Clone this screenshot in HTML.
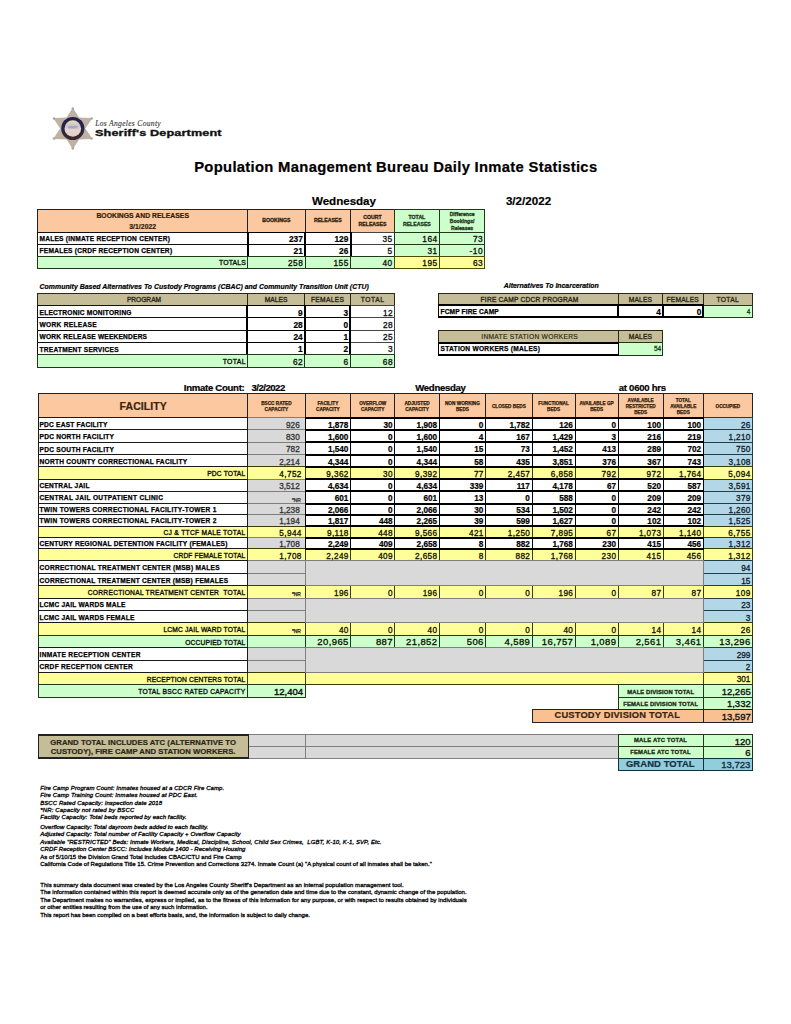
<!DOCTYPE html>
<html><head><meta charset="utf-8"><title>Population Management Bureau Daily Inmate Statistics</title>
<style>
html,body{margin:0;padding:0;background:#fff;}
body{width:791px;height:1024px;position:relative;overflow:hidden;font-family:"Liberation Sans",sans-serif;}
.b{position:absolute;box-sizing:border-box;}
.t{position:absolute;white-space:pre;margin:0;padding:0;}
</style></head><body>
<div class="t" style="top:159px;font-size:14.8px;line-height:16px;height:16px;color:#000;z-index:5;font-weight:bold;letter-spacing:0.307px;-webkit-text-stroke:0.2px #000;left:194.20px;">Population Management Bureau Daily Inmate Statistics</div>
<div class="t" style="top:194px;font-size:11.6px;line-height:13px;height:13px;color:#000;z-index:5;font-weight:bold;letter-spacing:-0.032px;-webkit-text-stroke:0.2px #000;left:312.00px;">Wednesday</div>
<div class="t" style="top:194px;font-size:11.6px;line-height:13px;height:13px;color:#000;z-index:5;font-weight:bold;letter-spacing:0.021px;-webkit-text-stroke:0.2px #000;left:505.90px;">3/2/2022</div>
<div class="b" style="left:37px;top:209px;width:211px;height:24px;background:#fbc89f;border:solid #222;border-width:1px 1px;"></div>
<div class="b" style="left:247px;top:209px;width:59px;height:24px;background:#fbc89f;border:solid #222;border-width:1px 1px;"></div>
<div class="b" style="left:305px;top:209px;width:46px;height:24px;background:#fbc89f;border:solid #222;border-width:1px 1px;"></div>
<div class="b" style="left:350px;top:209px;width:45px;height:24px;background:#fbc89f;border:solid #222;border-width:1px 1px;"></div>
<div class="b" style="left:394px;top:209px;width:46px;height:24px;background:#ccffcc;border:solid #22361a;border-width:1px 1px;"></div>
<div class="b" style="left:439px;top:209px;width:46px;height:24px;background:#ccffcc;border:solid #22361a;border-width:1px 1px;"></div>
<div class="t" style="top:212px;font-size:6.8px;line-height:7px;height:7px;color:#2e1c0c;z-index:5;font-weight:bold;letter-spacing:0.033px;-webkit-text-stroke:0.2px #2e1c0c;left:-157.33px;width:600px;text-align:center;">BOOKINGS AND RELEASES</div>
<div class="t" style="top:223px;font-size:6.8px;line-height:7px;height:7px;color:#2e1c0c;z-index:5;font-weight:bold;letter-spacing:0.061px;-webkit-text-stroke:0.2px #2e1c0c;left:-157.32px;width:600px;text-align:center;">3/1/2022</div>
<div class="t" style="top:217px;font-size:5.2px;line-height:6px;height:6px;color:#2e1c0c;z-index:5;font-weight:bold;-webkit-text-stroke:0.3px #2e1c0c;left:-23.60px;width:600px;text-align:center;">BOOKINGS</div>
<div class="t" style="top:217px;font-size:5.2px;line-height:6px;height:6px;color:#2e1c0c;z-index:5;font-weight:bold;letter-spacing:-0.018px;-webkit-text-stroke:0.3px #2e1c0c;left:27.84px;width:600px;text-align:center;">RELEASES</div>
<div class="t" style="top:214px;font-size:5.2px;line-height:6px;height:6px;color:#2e1c0c;z-index:5;font-weight:bold;-webkit-text-stroke:0.3px #2e1c0c;left:72.50px;width:600px;text-align:center;">COURT</div>
<div class="t" style="top:221px;font-size:5.2px;line-height:6px;height:6px;color:#2e1c0c;z-index:5;font-weight:bold;letter-spacing:-0.018px;-webkit-text-stroke:0.3px #2e1c0c;left:72.49px;width:600px;text-align:center;">RELEASES</div>
<div class="t" style="top:214px;font-size:5.2px;line-height:6px;height:6px;color:#22361a;z-index:5;font-weight:bold;-webkit-text-stroke:0.3px #22361a;left:116.90px;width:600px;text-align:center;">TOTAL</div>
<div class="t" style="top:221px;font-size:5.2px;line-height:6px;height:6px;color:#22361a;z-index:5;font-weight:bold;letter-spacing:-0.018px;-webkit-text-stroke:0.3px #22361a;left:116.89px;width:600px;text-align:center;">RELEASES</div>
<div class="t" style="top:211px;font-size:5.1px;line-height:6px;height:6px;color:#22361a;z-index:5;font-weight:bold;-webkit-text-stroke:0.3px #22361a;left:162.15px;width:600px;text-align:center;">Difference</div>
<div class="t" style="top:218px;font-size:5.1px;line-height:6px;height:6px;color:#22361a;z-index:5;font-weight:bold;-webkit-text-stroke:0.3px #22361a;left:162.15px;width:600px;text-align:center;">Bookings/</div>
<div class="t" style="top:225px;font-size:5.1px;line-height:6px;height:6px;color:#22361a;z-index:5;font-weight:bold;-webkit-text-stroke:0.3px #22361a;left:162.15px;width:600px;text-align:center;">Releases</div>
<div class="b" style="left:350px;top:232px;width:45px;height:13px;background:#fff;border:solid #444;border-width:1px 1px;"></div>
<div class="b" style="left:394px;top:232px;width:46px;height:13px;background:#ccffcc;border:solid #22361a;border-width:1px 1px;"></div>
<div class="b" style="left:439px;top:232px;width:46px;height:13px;background:#ccffcc;border:solid #22361a;border-width:1px 1px;"></div>
<div class="b" style="left:350px;top:244px;width:45px;height:13px;background:#fff;border:solid #444;border-width:1px 1px;"></div>
<div class="b" style="left:394px;top:244px;width:46px;height:13px;background:#ccffcc;border:solid #22361a;border-width:1px 1px;"></div>
<div class="b" style="left:439px;top:244px;width:46px;height:13px;background:#ccffcc;border:solid #22361a;border-width:1px 1px;"></div>
<div class="b" style="left:37px;top:232px;width:211px;height:13px;background:#fff;border:solid #111;border-width:1px 1px;"></div>
<div class="b" style="left:247px;top:232px;width:59px;height:13px;background:#fff;border:solid #000;border-width:1px 2px;"></div>
<div class="b" style="left:304px;top:232px;width:48px;height:13px;background:#fff;border:solid #000;border-width:1px 2px;"></div>
<div class="t" style="top:235px;font-size:6.6px;line-height:7px;height:7px;color:#000;z-index:5;font-weight:bold;letter-spacing:0.235px;-webkit-text-stroke:0.25px #000;left:39.50px;">MALES (INMATE RECEPTION CENTER)</div>
<div class="t" style="top:234px;font-size:8.3px;line-height:10px;height:10px;color:#000;z-index:5;font-weight:bold;-webkit-text-stroke:0.2px #000;right:488.20px;">237</div>
<div class="t" style="top:234px;font-size:8.3px;line-height:10px;height:10px;color:#000;z-index:5;font-weight:bold;-webkit-text-stroke:0.2px #000;right:442.70px;">129</div>
<div class="t" style="top:234px;font-size:8.3px;line-height:10px;height:10px;color:#111;z-index:5;letter-spacing:0.500px;-webkit-text-stroke:0.33px #111;right:398.40px;">35</div>
<div class="t" style="top:234px;font-size:8.3px;line-height:10px;height:10px;color:#111;z-index:5;letter-spacing:0.500px;-webkit-text-stroke:0.33px #111;right:353.40px;">164</div>
<div class="t" style="top:234px;font-size:8.3px;line-height:10px;height:10px;color:#111;z-index:5;letter-spacing:0.500px;-webkit-text-stroke:0.33px #111;right:307.90px;">73</div>
<div class="b" style="left:37px;top:244px;width:211px;height:13px;background:#fff;border:solid #111;border-width:1px 1px;"></div>
<div class="b" style="left:247px;top:244px;width:59px;height:13px;background:#fff;border:solid #000;border-width:1px 2px;"></div>
<div class="b" style="left:304px;top:244px;width:48px;height:13px;background:#fff;border:solid #000;border-width:1px 2px;"></div>
<div class="t" style="top:247px;font-size:6.6px;line-height:7px;height:7px;color:#000;z-index:5;font-weight:bold;letter-spacing:0.243px;-webkit-text-stroke:0.25px #000;left:39.50px;">FEMALES (CRDF RECEPTION CENTER)</div>
<div class="t" style="top:246px;font-size:8.3px;line-height:10px;height:10px;color:#000;z-index:5;font-weight:bold;-webkit-text-stroke:0.2px #000;right:488.20px;">21</div>
<div class="t" style="top:246px;font-size:8.3px;line-height:10px;height:10px;color:#000;z-index:5;font-weight:bold;-webkit-text-stroke:0.2px #000;right:442.70px;">26</div>
<div class="t" style="top:246px;font-size:8.3px;line-height:10px;height:10px;color:#111;z-index:5;-webkit-text-stroke:0.33px #111;right:398.90px;">5</div>
<div class="t" style="top:246px;font-size:8.3px;line-height:10px;height:10px;color:#111;z-index:5;letter-spacing:0.500px;-webkit-text-stroke:0.33px #111;right:353.40px;">31</div>
<div class="t" style="top:246px;font-size:8.3px;line-height:10px;height:10px;color:#111;z-index:5;letter-spacing:0.500px;-webkit-text-stroke:0.33px #111;right:307.90px;">-10</div>
<div class="b" style="left:37px;top:256px;width:211px;height:13px;background:#ccffcc;border:solid #22361a;border-width:1px 1px;"></div>
<div class="b" style="left:247px;top:256px;width:59px;height:13px;background:#ccffcc;border:solid #22361a;border-width:1px 1px;"></div>
<div class="b" style="left:305px;top:256px;width:46px;height:13px;background:#ccffcc;border:solid #22361a;border-width:1px 1px;"></div>
<div class="b" style="left:350px;top:256px;width:45px;height:13px;background:#ccffcc;border:solid #22361a;border-width:1px 1px;"></div>
<div class="b" style="left:394px;top:256px;width:46px;height:13px;background:#ffff99;border:solid #4d4d00;border-width:1px 1px;"></div>
<div class="b" style="left:439px;top:256px;width:46px;height:13px;background:#ffff99;border:solid #4d4d00;border-width:1px 1px;"></div>
<div class="t" style="top:259px;font-size:6.9px;line-height:7px;height:7px;color:#0d0d0d;z-index:5;letter-spacing:0.140px;-webkit-text-stroke:0.33px #0d0d0d;right:544.96px;">TOTALS</div>
<div class="t" style="top:258px;font-size:8.3px;line-height:10px;height:10px;color:#111;z-index:5;letter-spacing:0.500px;-webkit-text-stroke:0.33px #111;right:487.70px;">258</div>
<div class="t" style="top:258px;font-size:8.3px;line-height:10px;height:10px;color:#111;z-index:5;letter-spacing:0.500px;-webkit-text-stroke:0.33px #111;right:442.20px;">155</div>
<div class="t" style="top:258px;font-size:8.3px;line-height:10px;height:10px;color:#111;z-index:5;letter-spacing:0.500px;-webkit-text-stroke:0.33px #111;right:398.40px;">40</div>
<div class="t" style="top:258px;font-size:8.3px;line-height:10px;height:10px;color:#111;z-index:5;letter-spacing:0.500px;-webkit-text-stroke:0.33px #111;right:353.40px;">195</div>
<div class="t" style="top:258px;font-size:8.3px;line-height:10px;height:10px;color:#111;z-index:5;letter-spacing:0.500px;-webkit-text-stroke:0.33px #111;right:307.90px;">63</div>
<div class="t" style="top:283px;font-size:6.9px;line-height:7px;height:7px;color:#000;z-index:5;font-weight:bold;font-style:italic;letter-spacing:0.027px;-webkit-text-stroke:0.2px #000;left:39.60px;">Community Based Alternatives To Custody Programs (CBAC) and Community Transition Unit (CTU)</div>
<div class="b" style="left:37px;top:293px;width:211px;height:13px;background:#c4bd97;border:solid #2b2714;border-width:1px 1px;"></div>
<div class="b" style="left:247px;top:293px;width:58px;height:13px;background:#c4bd97;border:solid #2b2714;border-width:1px 1px;"></div>
<div class="b" style="left:304px;top:293px;width:47px;height:13px;background:#c4bd97;border:solid #2b2714;border-width:1px 1px;"></div>
<div class="b" style="left:350px;top:293px;width:45px;height:13px;background:#c4bd97;border:solid #2b2714;border-width:1px 1px;"></div>
<div class="t" style="top:296px;font-size:6.6px;line-height:7px;height:7px;color:#2b2714;z-index:5;letter-spacing:0.016px;-webkit-text-stroke:0.33px #2b2714;left:-156.04px;width:600px;text-align:center;">PROGRAM</div>
<div class="t" style="top:296px;font-size:6.7px;line-height:7px;height:7px;color:#2b2714;z-index:5;letter-spacing:0.021px;-webkit-text-stroke:0.33px #2b2714;left:-23.99px;width:600px;text-align:center;">MALES</div>
<div class="t" style="top:296px;font-size:6.7px;line-height:7px;height:7px;color:#2b2714;z-index:5;letter-spacing:0.271px;-webkit-text-stroke:0.33px #2b2714;left:27.59px;width:600px;text-align:center;">FEMALES</div>
<div class="t" style="top:296px;font-size:6.7px;line-height:7px;height:7px;color:#2b2714;z-index:5;letter-spacing:0.582px;-webkit-text-stroke:0.33px #2b2714;left:72.64px;width:600px;text-align:center;">TOTAL</div>
<div class="b" style="left:350px;top:305px;width:45px;height:13px;background:#fff;border:solid #444;border-width:1px 1px;"></div>
<div class="b" style="left:350px;top:317px;width:45px;height:14px;background:#fff;border:solid #444;border-width:1px 1px;"></div>
<div class="b" style="left:350px;top:330px;width:45px;height:13px;background:#fff;border:solid #444;border-width:1px 1px;"></div>
<div class="b" style="left:350px;top:342px;width:45px;height:13px;background:#fff;border:solid #444;border-width:1px 1px;"></div>
<div class="b" style="left:37px;top:305px;width:211px;height:13px;background:#fff;border:solid #111;border-width:1px 1px;"></div>
<div class="b" style="left:246px;top:305px;width:60px;height:13px;background:#fff;border:solid #000;border-width:1px 2px;"></div>
<div class="b" style="left:304px;top:305px;width:47px;height:13px;background:#fff;border:solid #000;border-width:1px 2px;"></div>
<div class="t" style="top:309px;font-size:6.6px;line-height:7px;height:7px;color:#000;z-index:5;font-weight:bold;letter-spacing:0.224px;-webkit-text-stroke:0.25px #000;left:39.60px;">ELECTRONIC MONITORING</div>
<div class="t" style="top:308px;font-size:8.3px;line-height:10px;height:10px;color:#000;z-index:5;font-weight:bold;-webkit-text-stroke:0.2px #000;right:488.30px;">9</div>
<div class="t" style="top:308px;font-size:8.3px;line-height:10px;height:10px;color:#000;z-index:5;font-weight:bold;-webkit-text-stroke:0.2px #000;right:442.80px;">3</div>
<div class="t" style="top:308px;font-size:8.3px;line-height:10px;height:10px;color:#111;z-index:5;letter-spacing:0.400px;-webkit-text-stroke:0.33px #111;right:397.90px;">12</div>
<div class="b" style="left:37px;top:317px;width:211px;height:14px;background:#fff;border:solid #111;border-width:1px 1px;"></div>
<div class="b" style="left:246px;top:317px;width:60px;height:14px;background:#fff;border:solid #000;border-width:1px 2px;"></div>
<div class="b" style="left:304px;top:317px;width:47px;height:14px;background:#fff;border:solid #000;border-width:1px 2px;"></div>
<div class="t" style="top:321px;font-size:6.6px;line-height:7px;height:7px;color:#000;z-index:5;font-weight:bold;letter-spacing:0.282px;-webkit-text-stroke:0.25px #000;left:39.60px;">WORK RELEASE</div>
<div class="t" style="top:320px;font-size:8.3px;line-height:10px;height:10px;color:#000;z-index:5;font-weight:bold;-webkit-text-stroke:0.2px #000;right:488.30px;">28</div>
<div class="t" style="top:320px;font-size:8.3px;line-height:10px;height:10px;color:#000;z-index:5;font-weight:bold;-webkit-text-stroke:0.2px #000;right:442.80px;">0</div>
<div class="t" style="top:320px;font-size:8.3px;line-height:10px;height:10px;color:#111;z-index:5;letter-spacing:0.400px;-webkit-text-stroke:0.33px #111;right:397.90px;">28</div>
<div class="b" style="left:37px;top:330px;width:211px;height:13px;background:#fff;border:solid #111;border-width:1px 1px;"></div>
<div class="b" style="left:246px;top:330px;width:60px;height:13px;background:#fff;border:solid #000;border-width:1px 2px;"></div>
<div class="b" style="left:304px;top:330px;width:47px;height:13px;background:#fff;border:solid #000;border-width:1px 2px;"></div>
<div class="t" style="top:333px;font-size:6.6px;line-height:7px;height:7px;color:#000;z-index:5;font-weight:bold;letter-spacing:0.203px;-webkit-text-stroke:0.25px #000;left:39.60px;">WORK RELEASE WEEKENDERS</div>
<div class="t" style="top:332px;font-size:8.3px;line-height:10px;height:10px;color:#000;z-index:5;font-weight:bold;-webkit-text-stroke:0.2px #000;right:488.30px;">24</div>
<div class="t" style="top:332px;font-size:8.3px;line-height:10px;height:10px;color:#000;z-index:5;font-weight:bold;-webkit-text-stroke:0.2px #000;right:442.80px;">1</div>
<div class="t" style="top:332px;font-size:8.3px;line-height:10px;height:10px;color:#111;z-index:5;letter-spacing:0.400px;-webkit-text-stroke:0.33px #111;right:397.90px;">25</div>
<div class="b" style="left:37px;top:342px;width:211px;height:13px;background:#fff;border:solid #111;border-width:1px 1px;"></div>
<div class="b" style="left:246px;top:342px;width:60px;height:13px;background:#fff;border:solid #000;border-width:1px 2px;"></div>
<div class="b" style="left:304px;top:342px;width:47px;height:13px;background:#fff;border:solid #000;border-width:1px 2px;"></div>
<div class="t" style="top:346px;font-size:6.6px;line-height:7px;height:7px;color:#000;z-index:5;font-weight:bold;letter-spacing:0.218px;-webkit-text-stroke:0.25px #000;left:39.60px;">TREATMENT SERVICES</div>
<div class="t" style="top:344px;font-size:8.3px;line-height:10px;height:10px;color:#000;z-index:5;font-weight:bold;-webkit-text-stroke:0.2px #000;right:488.30px;">1</div>
<div class="t" style="top:344px;font-size:8.3px;line-height:10px;height:10px;color:#000;z-index:5;font-weight:bold;-webkit-text-stroke:0.2px #000;right:442.80px;">2</div>
<div class="t" style="top:344px;font-size:8.3px;line-height:10px;height:10px;color:#111;z-index:5;-webkit-text-stroke:0.33px #111;right:398.30px;">3</div>
<div class="b" style="left:37px;top:354px;width:211px;height:14px;background:#ccffcc;border:solid #22361a;border-width:1px 1px;"></div>
<div class="b" style="left:247px;top:354px;width:58px;height:14px;background:#ccffcc;border:solid #22361a;border-width:1px 1px;"></div>
<div class="b" style="left:304px;top:354px;width:47px;height:14px;background:#ccffcc;border:solid #22361a;border-width:1px 1px;"></div>
<div class="b" style="left:350px;top:354px;width:45px;height:14px;background:#ccffcc;border:solid #22361a;border-width:1px 1px;"></div>
<div class="t" style="top:358px;font-size:6.9px;line-height:7px;height:7px;color:#0d0d0d;z-index:5;letter-spacing:0.350px;-webkit-text-stroke:0.33px #0d0d0d;right:545.05px;">TOTAL</div>
<div class="t" style="top:357px;font-size:8.3px;line-height:10px;height:10px;color:#111;z-index:5;letter-spacing:0.500px;-webkit-text-stroke:0.33px #111;right:487.80px;">62</div>
<div class="t" style="top:357px;font-size:8.3px;line-height:10px;height:10px;color:#111;z-index:5;-webkit-text-stroke:0.33px #111;right:442.80px;">6</div>
<div class="t" style="top:357px;font-size:8.3px;line-height:10px;height:10px;color:#111;z-index:5;letter-spacing:0.500px;-webkit-text-stroke:0.33px #111;right:398.00px;">68</div>
<div class="t" style="top:282px;font-size:6.9px;line-height:7px;height:7px;color:#000;z-index:5;font-weight:bold;font-style:italic;letter-spacing:0.009px;-webkit-text-stroke:0.2px #000;left:503.80px;">Alternatives To Incarceration</div>
<div class="b" style="left:438px;top:293px;width:181px;height:13px;background:#c4bd97;border:solid #2b2714;border-width:1px 1px;"></div>
<div class="b" style="left:618px;top:293px;width:45px;height:13px;background:#c4bd97;border:solid #2b2714;border-width:1px 1px;"></div>
<div class="b" style="left:662px;top:293px;width:42px;height:13px;background:#c4bd97;border:solid #2b2714;border-width:1px 1px;"></div>
<div class="b" style="left:703px;top:293px;width:50px;height:13px;background:#c4bd97;border:solid #2b2714;border-width:1px 1px;"></div>
<div class="t" style="top:296px;font-size:6.7px;line-height:7px;height:7px;color:#2b2714;z-index:5;letter-spacing:0.178px;-webkit-text-stroke:0.33px #2b2714;left:480.60px;">FIRE CAMP CDCR PROGRAM</div>
<div class="t" style="top:296px;font-size:6.7px;line-height:7px;height:7px;color:#2b2714;z-index:5;letter-spacing:0.121px;-webkit-text-stroke:0.33px #2b2714;left:628.80px;">MALES</div>
<div class="t" style="top:296px;font-size:6.7px;line-height:7px;height:7px;color:#2b2714;z-index:5;letter-spacing:0.171px;-webkit-text-stroke:0.33px #2b2714;left:666.50px;">FEMALES</div>
<div class="t" style="top:296px;font-size:6.7px;line-height:7px;height:7px;color:#2b2714;z-index:5;letter-spacing:0.332px;-webkit-text-stroke:0.33px #2b2714;left:716.50px;">TOTAL</div>
<div class="b" style="left:703px;top:305px;width:50px;height:13px;background:#ccffcc;border:solid #22361a;border-width:1px 1px;"></div>
<div class="b" style="left:438px;top:304px;width:181px;height:14px;background:#fff;border:solid #000;border-width:2px 1px;"></div>
<div class="b" style="left:617px;top:304px;width:47px;height:14px;background:#fff;border:solid #000;border-width:2px 2px;"></div>
<div class="b" style="left:662px;top:304px;width:42px;height:14px;background:#fff;border:solid #000;border-width:2px 2px;"></div>
<div class="t" style="top:308px;font-size:6.6px;line-height:7px;height:7px;color:#000;z-index:5;font-weight:bold;letter-spacing:0.114px;-webkit-text-stroke:0.25px #000;left:440.60px;">FCMP FIRE CAMP</div>
<div class="t" style="top:307px;font-size:8.3px;line-height:10px;height:10px;color:#000;z-index:5;font-weight:bold;-webkit-text-stroke:0.2px #000;right:130.10px;">4</div>
<div class="t" style="top:307px;font-size:8.3px;line-height:10px;height:10px;color:#000;z-index:5;font-weight:bold;-webkit-text-stroke:0.2px #000;right:89.60px;">0</div>
<div class="t" style="top:308px;font-size:6.5px;line-height:7px;height:7px;color:#1c4220;z-index:5;-webkit-text-stroke:0.3px #1c4220;right:40.70px;">4</div>
<div class="b" style="left:438px;top:330px;width:181px;height:13px;background:#c4bd97;border:solid #2b2714;border-width:1px 1px;"></div>
<div class="b" style="left:618px;top:330px;width:45px;height:13px;background:#c4bd97;border:solid #2b2714;border-width:1px 1px;"></div>
<div class="t" style="top:333px;font-size:6.7px;line-height:7px;height:7px;color:#2b2714;z-index:5;letter-spacing:0.257px;-webkit-text-stroke:0.15px #2b2714;left:481.30px;">INMATE STATION WORKERS</div>
<div class="t" style="top:333px;font-size:6.7px;line-height:7px;height:7px;color:#2b2714;z-index:5;letter-spacing:0.121px;-webkit-text-stroke:0.33px #2b2714;left:628.80px;">MALES</div>
<div class="b" style="left:618px;top:342px;width:45px;height:14px;background:#ccffcc;border:solid #22361a;border-width:1px 1px;"></div>
<div class="b" style="left:438px;top:342px;width:181px;height:14px;background:#fff;border:solid #000;border-width:2px 1px;"></div>
<div class="t" style="top:345px;font-size:6.6px;line-height:7px;height:7px;color:#000;z-index:5;font-weight:bold;letter-spacing:0.263px;-webkit-text-stroke:0.25px #000;left:440.60px;">STATION WORKERS (MALES)</div>
<div class="t" style="top:345px;font-size:6.5px;line-height:7px;height:7px;color:#1c4220;z-index:5;-webkit-text-stroke:0.3px #1c4220;right:129.80px;">54</div>
<div class="t" style="top:382px;font-size:9.6px;line-height:11px;height:11px;color:#000;z-index:5;font-weight:bold;letter-spacing:-0.294px;-webkit-text-stroke:0.2px #000;left:183.80px;">Inmate Count:</div>
<div class="t" style="top:382px;font-size:9.6px;line-height:11px;height:11px;color:#000;z-index:5;font-weight:bold;letter-spacing:-0.510px;-webkit-text-stroke:0.2px #000;left:251.50px;">3/2/2022</div>
<div class="t" style="top:382px;font-size:9.6px;line-height:11px;height:11px;color:#000;z-index:5;font-weight:bold;letter-spacing:-0.322px;-webkit-text-stroke:0.2px #000;left:415.30px;">Wednesday</div>
<div class="t" style="top:382px;font-size:9.6px;line-height:11px;height:11px;color:#000;z-index:5;font-weight:bold;letter-spacing:-0.267px;-webkit-text-stroke:0.2px #000;left:618.70px;">at 0600 hrs</div>
<div class="b" style="left:38px;top:393px;width:210px;height:25px;background:#fbc89f;border:solid #222;border-width:1px 1px;"></div>
<div class="b" style="left:247px;top:393px;width:59px;height:25px;background:#fbc89f;border:solid #222;border-width:1px 1px;"></div>
<div class="b" style="left:305px;top:393px;width:46px;height:25px;background:#fbc89f;border:solid #222;border-width:1px 1px;"></div>
<div class="b" style="left:350px;top:393px;width:45px;height:25px;background:#fbc89f;border:solid #222;border-width:1px 1px;"></div>
<div class="b" style="left:394px;top:393px;width:46px;height:25px;background:#fbc89f;border:solid #222;border-width:1px 1px;"></div>
<div class="b" style="left:439px;top:393px;width:47px;height:25px;background:#fbc89f;border:solid #222;border-width:1px 1px;"></div>
<div class="b" style="left:485px;top:393px;width:48px;height:25px;background:#fbc89f;border:solid #222;border-width:1px 1px;"></div>
<div class="b" style="left:532px;top:393px;width:44px;height:25px;background:#fbc89f;border:solid #222;border-width:1px 1px;"></div>
<div class="b" style="left:575px;top:393px;width:44px;height:25px;background:#fbc89f;border:solid #222;border-width:1px 1px;"></div>
<div class="b" style="left:618px;top:393px;width:46px;height:25px;background:#fbc89f;border:solid #222;border-width:1px 1px;"></div>
<div class="b" style="left:663px;top:393px;width:41px;height:25px;background:#fbc89f;border:solid #222;border-width:1px 1px;"></div>
<div class="b" style="left:703px;top:393px;width:50px;height:25px;background:#fbc89f;border:solid #222;border-width:1px 1px;"></div>
<div class="t" style="top:400px;font-size:10.5px;line-height:12px;height:12px;color:#3a2410;z-index:5;font-weight:bold;letter-spacing:0.062px;-webkit-text-stroke:0.2px #3a2410;left:-156.82px;width:600px;text-align:center;">FACILITY</div>
<div class="t" style="top:401px;font-size:4.7px;line-height:5px;height:5px;color:#2e1c0c;z-index:5;font-weight:bold;-webkit-text-stroke:0.25px #2e1c0c;left:-23.60px;width:600px;text-align:center;">BSCC RATED</div>
<div class="t" style="top:407px;font-size:4.7px;line-height:5px;height:5px;color:#2e1c0c;z-index:5;font-weight:bold;-webkit-text-stroke:0.25px #2e1c0c;left:-23.60px;width:600px;text-align:center;">CAPACITY</div>
<div class="t" style="top:401px;font-size:4.7px;line-height:5px;height:5px;color:#2e1c0c;z-index:5;font-weight:bold;-webkit-text-stroke:0.25px #2e1c0c;left:27.85px;width:600px;text-align:center;">FACILITY</div>
<div class="t" style="top:407px;font-size:4.7px;line-height:5px;height:5px;color:#2e1c0c;z-index:5;font-weight:bold;-webkit-text-stroke:0.25px #2e1c0c;left:27.85px;width:600px;text-align:center;">CAPACITY</div>
<div class="t" style="top:401px;font-size:4.7px;line-height:5px;height:5px;color:#2e1c0c;z-index:5;font-weight:bold;-webkit-text-stroke:0.25px #2e1c0c;left:72.70px;width:600px;text-align:center;">OVERFLOW</div>
<div class="t" style="top:407px;font-size:4.7px;line-height:5px;height:5px;color:#2e1c0c;z-index:5;font-weight:bold;-webkit-text-stroke:0.25px #2e1c0c;left:72.70px;width:600px;text-align:center;">CAPACITY</div>
<div class="t" style="top:401px;font-size:4.7px;line-height:5px;height:5px;color:#2e1c0c;z-index:5;font-weight:bold;-webkit-text-stroke:0.25px #2e1c0c;left:117.05px;width:600px;text-align:center;">ADJUSTED</div>
<div class="t" style="top:407px;font-size:4.7px;line-height:5px;height:5px;color:#2e1c0c;z-index:5;font-weight:bold;-webkit-text-stroke:0.25px #2e1c0c;left:117.05px;width:600px;text-align:center;">CAPACITY</div>
<div class="t" style="top:401px;font-size:4.7px;line-height:5px;height:5px;color:#2e1c0c;z-index:5;font-weight:bold;-webkit-text-stroke:0.25px #2e1c0c;left:162.45px;width:600px;text-align:center;">NON WORKING</div>
<div class="t" style="top:407px;font-size:4.7px;line-height:5px;height:5px;color:#2e1c0c;z-index:5;font-weight:bold;-webkit-text-stroke:0.25px #2e1c0c;left:162.45px;width:600px;text-align:center;">BEDS</div>
<div class="t" style="top:404px;font-size:4.7px;line-height:5px;height:5px;color:#2e1c0c;z-index:5;font-weight:bold;-webkit-text-stroke:0.25px #2e1c0c;left:208.85px;width:600px;text-align:center;">CLOSED BEDS</div>
<div class="t" style="top:401px;font-size:4.7px;line-height:5px;height:5px;color:#2e1c0c;z-index:5;font-weight:bold;-webkit-text-stroke:0.25px #2e1c0c;left:253.60px;width:600px;text-align:center;">FUNCTIONAL</div>
<div class="t" style="top:407px;font-size:4.7px;line-height:5px;height:5px;color:#2e1c0c;z-index:5;font-weight:bold;-webkit-text-stroke:0.25px #2e1c0c;left:253.60px;width:600px;text-align:center;">BEDS</div>
<div class="t" style="top:401px;font-size:4.7px;line-height:5px;height:5px;color:#2e1c0c;z-index:5;font-weight:bold;-webkit-text-stroke:0.25px #2e1c0c;left:296.65px;width:600px;text-align:center;">AVAILABLE GP</div>
<div class="t" style="top:407px;font-size:4.7px;line-height:5px;height:5px;color:#2e1c0c;z-index:5;font-weight:bold;-webkit-text-stroke:0.25px #2e1c0c;left:296.65px;width:600px;text-align:center;">BEDS</div>
<div class="t" style="top:398px;font-size:4.7px;line-height:5px;height:5px;color:#2e1c0c;z-index:5;font-weight:bold;-webkit-text-stroke:0.25px #2e1c0c;left:340.70px;width:600px;text-align:center;">AVAILABLE</div>
<div class="t" style="top:404px;font-size:4.7px;line-height:5px;height:5px;color:#2e1c0c;z-index:5;font-weight:bold;-webkit-text-stroke:0.25px #2e1c0c;left:340.70px;width:600px;text-align:center;">RESTRICTED</div>
<div class="t" style="top:410px;font-size:4.7px;line-height:5px;height:5px;color:#2e1c0c;z-index:5;font-weight:bold;-webkit-text-stroke:0.25px #2e1c0c;left:340.70px;width:600px;text-align:center;">BEDS</div>
<div class="t" style="top:398px;font-size:4.7px;line-height:5px;height:5px;color:#2e1c0c;z-index:5;font-weight:bold;-webkit-text-stroke:0.25px #2e1c0c;left:383.25px;width:600px;text-align:center;">TOTAL</div>
<div class="t" style="top:404px;font-size:4.7px;line-height:5px;height:5px;color:#2e1c0c;z-index:5;font-weight:bold;-webkit-text-stroke:0.25px #2e1c0c;left:383.25px;width:600px;text-align:center;">AVAILABLE</div>
<div class="t" style="top:410px;font-size:4.7px;line-height:5px;height:5px;color:#2e1c0c;z-index:5;font-weight:bold;-webkit-text-stroke:0.25px #2e1c0c;left:383.25px;width:600px;text-align:center;">BEDS</div>
<div class="t" style="top:404px;font-size:4.7px;line-height:5px;height:5px;color:#2e1c0c;z-index:5;font-weight:bold;-webkit-text-stroke:0.25px #2e1c0c;left:427.90px;width:600px;text-align:center;">OCCUPIED</div>
<div class="b" style="left:247px;top:417px;width:59px;height:13px;background:#d9d9d9;border:solid #7f7f7f;border-width:1px 1px;"></div>
<div class="b" style="left:703px;top:417px;width:50px;height:13px;background:#b4d7e8;border:solid #1f3d4a;border-width:1px 1px;"></div>
<div class="b" style="left:247px;top:429px;width:59px;height:14px;background:#d9d9d9;border:solid #7f7f7f;border-width:1px 1px;"></div>
<div class="b" style="left:703px;top:429px;width:50px;height:14px;background:#b4d7e8;border:solid #1f3d4a;border-width:1px 1px;"></div>
<div class="b" style="left:247px;top:442px;width:59px;height:13px;background:#d9d9d9;border:solid #7f7f7f;border-width:1px 1px;"></div>
<div class="b" style="left:703px;top:442px;width:50px;height:13px;background:#b4d7e8;border:solid #1f3d4a;border-width:1px 1px;"></div>
<div class="b" style="left:247px;top:454px;width:59px;height:13px;background:#d9d9d9;border:solid #7f7f7f;border-width:1px 1px;"></div>
<div class="b" style="left:703px;top:454px;width:50px;height:13px;background:#b4d7e8;border:solid #1f3d4a;border-width:1px 1px;"></div>
<div class="b" style="left:38px;top:466px;width:210px;height:14px;background:#ffff99;border:solid #3d3d00;border-width:1px 1px;"></div>
<div class="b" style="left:247px;top:466px;width:59px;height:14px;background:#ffff99;border:solid #3d3d00;border-width:1px 1px;"></div>
<div class="b" style="left:305px;top:466px;width:46px;height:14px;background:#ffff99;border:solid #3d3d00;border-width:1px 1px;"></div>
<div class="b" style="left:350px;top:466px;width:45px;height:14px;background:#ffff99;border:solid #3d3d00;border-width:1px 1px;"></div>
<div class="b" style="left:394px;top:466px;width:46px;height:14px;background:#ffff99;border:solid #3d3d00;border-width:1px 1px;"></div>
<div class="b" style="left:439px;top:466px;width:47px;height:14px;background:#ffff99;border:solid #3d3d00;border-width:1px 1px;"></div>
<div class="b" style="left:485px;top:466px;width:48px;height:14px;background:#ffff99;border:solid #3d3d00;border-width:1px 1px;"></div>
<div class="b" style="left:532px;top:466px;width:44px;height:14px;background:#ffff99;border:solid #3d3d00;border-width:1px 1px;"></div>
<div class="b" style="left:575px;top:466px;width:44px;height:14px;background:#ffff99;border:solid #3d3d00;border-width:1px 1px;"></div>
<div class="b" style="left:618px;top:466px;width:46px;height:14px;background:#ffff99;border:solid #3d3d00;border-width:1px 1px;"></div>
<div class="b" style="left:663px;top:466px;width:41px;height:14px;background:#ffff99;border:solid #3d3d00;border-width:1px 1px;"></div>
<div class="b" style="left:703px;top:466px;width:50px;height:14px;background:#ffff99;border:solid #3d3d00;border-width:1px 1px;"></div>
<div class="b" style="left:247px;top:479px;width:59px;height:13px;background:#d9d9d9;border:solid #7f7f7f;border-width:1px 1px;"></div>
<div class="b" style="left:703px;top:479px;width:50px;height:13px;background:#b4d7e8;border:solid #1f3d4a;border-width:1px 1px;"></div>
<div class="b" style="left:247px;top:491px;width:59px;height:13px;background:#d9d9d9;border:solid #7f7f7f;border-width:1px 1px;"></div>
<div class="b" style="left:703px;top:491px;width:50px;height:13px;background:#b4d7e8;border:solid #1f3d4a;border-width:1px 1px;"></div>
<div class="b" style="left:247px;top:503px;width:59px;height:12px;background:#d9d9d9;border:solid #7f7f7f;border-width:1px 1px;"></div>
<div class="b" style="left:703px;top:503px;width:50px;height:12px;background:#b4d7e8;border:solid #1f3d4a;border-width:1px 1px;"></div>
<div class="b" style="left:247px;top:514px;width:59px;height:13px;background:#d9d9d9;border:solid #7f7f7f;border-width:1px 1px;"></div>
<div class="b" style="left:703px;top:514px;width:50px;height:13px;background:#b4d7e8;border:solid #1f3d4a;border-width:1px 1px;"></div>
<div class="b" style="left:38px;top:526px;width:210px;height:12px;background:#ffff99;border:solid #3d3d00;border-width:1px 1px;"></div>
<div class="b" style="left:247px;top:526px;width:59px;height:12px;background:#ffff99;border:solid #3d3d00;border-width:1px 1px;"></div>
<div class="b" style="left:305px;top:526px;width:46px;height:12px;background:#ffff99;border:solid #3d3d00;border-width:1px 1px;"></div>
<div class="b" style="left:350px;top:526px;width:45px;height:12px;background:#ffff99;border:solid #3d3d00;border-width:1px 1px;"></div>
<div class="b" style="left:394px;top:526px;width:46px;height:12px;background:#ffff99;border:solid #3d3d00;border-width:1px 1px;"></div>
<div class="b" style="left:439px;top:526px;width:47px;height:12px;background:#ffff99;border:solid #3d3d00;border-width:1px 1px;"></div>
<div class="b" style="left:485px;top:526px;width:48px;height:12px;background:#ffff99;border:solid #3d3d00;border-width:1px 1px;"></div>
<div class="b" style="left:532px;top:526px;width:44px;height:12px;background:#ffff99;border:solid #3d3d00;border-width:1px 1px;"></div>
<div class="b" style="left:575px;top:526px;width:44px;height:12px;background:#ffff99;border:solid #3d3d00;border-width:1px 1px;"></div>
<div class="b" style="left:618px;top:526px;width:46px;height:12px;background:#ffff99;border:solid #3d3d00;border-width:1px 1px;"></div>
<div class="b" style="left:663px;top:526px;width:41px;height:12px;background:#ffff99;border:solid #3d3d00;border-width:1px 1px;"></div>
<div class="b" style="left:703px;top:526px;width:50px;height:12px;background:#ffff99;border:solid #3d3d00;border-width:1px 1px;"></div>
<div class="b" style="left:247px;top:537px;width:59px;height:12px;background:#d9d9d9;border:solid #7f7f7f;border-width:1px 1px;"></div>
<div class="b" style="left:703px;top:537px;width:50px;height:12px;background:#b4d7e8;border:solid #1f3d4a;border-width:1px 1px;"></div>
<div class="b" style="left:38px;top:548px;width:210px;height:13px;background:#ffff99;border:solid #3d3d00;border-width:1px 1px;"></div>
<div class="b" style="left:247px;top:548px;width:59px;height:13px;background:#ffff99;border:solid #3d3d00;border-width:1px 1px;"></div>
<div class="b" style="left:305px;top:548px;width:46px;height:13px;background:#ffff99;border:solid #3d3d00;border-width:1px 1px;"></div>
<div class="b" style="left:350px;top:548px;width:45px;height:13px;background:#ffff99;border:solid #3d3d00;border-width:1px 1px;"></div>
<div class="b" style="left:394px;top:548px;width:46px;height:13px;background:#ffff99;border:solid #3d3d00;border-width:1px 1px;"></div>
<div class="b" style="left:439px;top:548px;width:47px;height:13px;background:#ffff99;border:solid #3d3d00;border-width:1px 1px;"></div>
<div class="b" style="left:485px;top:548px;width:48px;height:13px;background:#ffff99;border:solid #3d3d00;border-width:1px 1px;"></div>
<div class="b" style="left:532px;top:548px;width:44px;height:13px;background:#ffff99;border:solid #3d3d00;border-width:1px 1px;"></div>
<div class="b" style="left:575px;top:548px;width:44px;height:13px;background:#ffff99;border:solid #3d3d00;border-width:1px 1px;"></div>
<div class="b" style="left:618px;top:548px;width:46px;height:13px;background:#ffff99;border:solid #3d3d00;border-width:1px 1px;"></div>
<div class="b" style="left:663px;top:548px;width:41px;height:13px;background:#ffff99;border:solid #3d3d00;border-width:1px 1px;"></div>
<div class="b" style="left:703px;top:548px;width:50px;height:13px;background:#ffff99;border:solid #3d3d00;border-width:1px 1px;"></div>
<div class="b" style="left:247px;top:560px;width:59px;height:14px;background:#d9d9d9;border:solid #7f7f7f;border-width:1px 1px;"></div>
<div class="b" style="left:703px;top:560px;width:50px;height:14px;background:#b4d7e8;border:solid #1f3d4a;border-width:1px 1px;"></div>
<div class="b" style="left:247px;top:573px;width:59px;height:13px;background:#d9d9d9;border:solid #7f7f7f;border-width:1px 1px;"></div>
<div class="b" style="left:703px;top:573px;width:50px;height:13px;background:#b4d7e8;border:solid #1f3d4a;border-width:1px 1px;"></div>
<div class="b" style="left:38px;top:585px;width:210px;height:14px;background:#ffff99;border:solid #3d3d00;border-width:1px 1px;"></div>
<div class="b" style="left:247px;top:585px;width:59px;height:14px;background:#ffff99;border:solid #3d3d00;border-width:1px 1px;"></div>
<div class="b" style="left:305px;top:585px;width:46px;height:14px;background:#ffff99;border:solid #3d3d00;border-width:1px 1px;"></div>
<div class="b" style="left:350px;top:585px;width:45px;height:14px;background:#ffff99;border:solid #3d3d00;border-width:1px 1px;"></div>
<div class="b" style="left:394px;top:585px;width:46px;height:14px;background:#ffff99;border:solid #3d3d00;border-width:1px 1px;"></div>
<div class="b" style="left:439px;top:585px;width:47px;height:14px;background:#ffff99;border:solid #3d3d00;border-width:1px 1px;"></div>
<div class="b" style="left:485px;top:585px;width:48px;height:14px;background:#ffff99;border:solid #3d3d00;border-width:1px 1px;"></div>
<div class="b" style="left:532px;top:585px;width:44px;height:14px;background:#ffff99;border:solid #3d3d00;border-width:1px 1px;"></div>
<div class="b" style="left:575px;top:585px;width:44px;height:14px;background:#ffff99;border:solid #3d3d00;border-width:1px 1px;"></div>
<div class="b" style="left:618px;top:585px;width:46px;height:14px;background:#ffff99;border:solid #3d3d00;border-width:1px 1px;"></div>
<div class="b" style="left:663px;top:585px;width:41px;height:14px;background:#ffff99;border:solid #3d3d00;border-width:1px 1px;"></div>
<div class="b" style="left:703px;top:585px;width:50px;height:14px;background:#ffff99;border:solid #3d3d00;border-width:1px 1px;"></div>
<div class="b" style="left:247px;top:598px;width:59px;height:13px;background:#d9d9d9;border:solid #7f7f7f;border-width:1px 1px;"></div>
<div class="b" style="left:703px;top:598px;width:50px;height:13px;background:#b4d7e8;border:solid #1f3d4a;border-width:1px 1px;"></div>
<div class="b" style="left:247px;top:610px;width:59px;height:13px;background:#d9d9d9;border:solid #7f7f7f;border-width:1px 1px;"></div>
<div class="b" style="left:703px;top:610px;width:50px;height:13px;background:#b4d7e8;border:solid #1f3d4a;border-width:1px 1px;"></div>
<div class="b" style="left:38px;top:622px;width:210px;height:14px;background:#ffff99;border:solid #3d3d00;border-width:1px 1px;"></div>
<div class="b" style="left:247px;top:622px;width:59px;height:14px;background:#ffff99;border:solid #3d3d00;border-width:1px 1px;"></div>
<div class="b" style="left:305px;top:622px;width:46px;height:14px;background:#ffff99;border:solid #3d3d00;border-width:1px 1px;"></div>
<div class="b" style="left:350px;top:622px;width:45px;height:14px;background:#ffff99;border:solid #3d3d00;border-width:1px 1px;"></div>
<div class="b" style="left:394px;top:622px;width:46px;height:14px;background:#ffff99;border:solid #3d3d00;border-width:1px 1px;"></div>
<div class="b" style="left:439px;top:622px;width:47px;height:14px;background:#ffff99;border:solid #3d3d00;border-width:1px 1px;"></div>
<div class="b" style="left:485px;top:622px;width:48px;height:14px;background:#ffff99;border:solid #3d3d00;border-width:1px 1px;"></div>
<div class="b" style="left:532px;top:622px;width:44px;height:14px;background:#ffff99;border:solid #3d3d00;border-width:1px 1px;"></div>
<div class="b" style="left:575px;top:622px;width:44px;height:14px;background:#ffff99;border:solid #3d3d00;border-width:1px 1px;"></div>
<div class="b" style="left:618px;top:622px;width:46px;height:14px;background:#ffff99;border:solid #3d3d00;border-width:1px 1px;"></div>
<div class="b" style="left:663px;top:622px;width:41px;height:14px;background:#ffff99;border:solid #3d3d00;border-width:1px 1px;"></div>
<div class="b" style="left:703px;top:622px;width:50px;height:14px;background:#ffff99;border:solid #3d3d00;border-width:1px 1px;"></div>
<div class="b" style="left:38px;top:635px;width:210px;height:13px;background:#ccffcc;border:solid #22361a;border-width:1px 1px;"></div>
<div class="b" style="left:247px;top:635px;width:59px;height:13px;background:#ccffcc;border:solid #22361a;border-width:1px 1px;"></div>
<div class="b" style="left:305px;top:635px;width:46px;height:13px;background:#ccffcc;border:solid #22361a;border-width:1px 1px;"></div>
<div class="b" style="left:350px;top:635px;width:45px;height:13px;background:#ccffcc;border:solid #22361a;border-width:1px 1px;"></div>
<div class="b" style="left:394px;top:635px;width:46px;height:13px;background:#ccffcc;border:solid #22361a;border-width:1px 1px;"></div>
<div class="b" style="left:439px;top:635px;width:47px;height:13px;background:#ccffcc;border:solid #22361a;border-width:1px 1px;"></div>
<div class="b" style="left:485px;top:635px;width:48px;height:13px;background:#ccffcc;border:solid #22361a;border-width:1px 1px;"></div>
<div class="b" style="left:532px;top:635px;width:44px;height:13px;background:#ccffcc;border:solid #22361a;border-width:1px 1px;"></div>
<div class="b" style="left:575px;top:635px;width:44px;height:13px;background:#ccffcc;border:solid #22361a;border-width:1px 1px;"></div>
<div class="b" style="left:618px;top:635px;width:46px;height:13px;background:#ccffcc;border:solid #22361a;border-width:1px 1px;"></div>
<div class="b" style="left:663px;top:635px;width:41px;height:13px;background:#ccffcc;border:solid #22361a;border-width:1px 1px;"></div>
<div class="b" style="left:703px;top:635px;width:50px;height:13px;background:#ccffcc;border:solid #22361a;border-width:1px 1px;"></div>
<div class="b" style="left:247px;top:647px;width:59px;height:14px;background:#d9d9d9;border:solid #7f7f7f;border-width:1px 1px;"></div>
<div class="b" style="left:703px;top:647px;width:50px;height:14px;background:#b4d7e8;border:solid #1f3d4a;border-width:1px 1px;"></div>
<div class="b" style="left:247px;top:660px;width:59px;height:13px;background:#d9d9d9;border:solid #7f7f7f;border-width:1px 1px;"></div>
<div class="b" style="left:703px;top:660px;width:50px;height:13px;background:#b4d7e8;border:solid #1f3d4a;border-width:1px 1px;"></div>
<div class="b" style="left:38px;top:672px;width:210px;height:13px;background:#ffff99;border:solid #3d3d00;border-width:1px 1px;"></div>
<div class="b" style="left:247px;top:672px;width:59px;height:13px;background:#ffff99;border:solid #3d3d00;border-width:1px 1px;"></div>
<div class="b" style="left:305px;top:672px;width:399px;height:13px;background:#ffff99;border:solid #3d3d00;border-width:1px 1px;"></div>
<div class="b" style="left:703px;top:672px;width:50px;height:13px;background:#ffff99;border:solid #3d3d00;border-width:1px 1px;"></div>
<div class="b" style="left:38px;top:684px;width:210px;height:14px;background:#ccffcc;border:solid #22361a;border-width:1px 1px;"></div>
<div class="b" style="left:247px;top:684px;width:59px;height:14px;background:#ccffcc;border:solid #22361a;border-width:1px 1px;"></div>
<div class="b" style="left:305px;top:560px;width:399px;height:26px;background:#d9d9d9;border:solid #7f7f7f;border-width:1px 1px;"></div>
<div class="b" style="left:305px;top:598px;width:399px;height:25px;background:#d9d9d9;border:solid #7f7f7f;border-width:1px 1px;"></div>
<div class="b" style="left:305px;top:647px;width:399px;height:26px;background:#d9d9d9;border:solid #7f7f7f;border-width:1px 1px;"></div>
<div class="b" style="left:38px;top:417px;width:210px;height:13px;background:#fff;border:solid #1a1a1a;border-width:1px 1px;"></div>
<div class="b" style="left:305px;top:417px;width:46px;height:14px;background:#fff;border:solid #000;border-width:2px 1px;"></div>
<div class="b" style="left:350px;top:417px;width:45px;height:14px;background:#fff;border:solid #000;border-width:2px 1px;"></div>
<div class="b" style="left:394px;top:417px;width:46px;height:14px;background:#fff;border:solid #000;border-width:2px 1px;"></div>
<div class="b" style="left:439px;top:417px;width:47px;height:14px;background:#fff;border:solid #000;border-width:2px 1px;"></div>
<div class="b" style="left:485px;top:417px;width:48px;height:14px;background:#fff;border:solid #000;border-width:2px 1px;"></div>
<div class="b" style="left:532px;top:417px;width:44px;height:14px;background:#fff;border:solid #000;border-width:2px 1px;"></div>
<div class="b" style="left:575px;top:417px;width:44px;height:14px;background:#fff;border:solid #000;border-width:2px 1px;"></div>
<div class="b" style="left:618px;top:417px;width:46px;height:14px;background:#fff;border:solid #000;border-width:2px 1px;"></div>
<div class="b" style="left:663px;top:417px;width:41px;height:14px;background:#fff;border:solid #000;border-width:2px 1px;"></div>
<div class="b" style="left:38px;top:429px;width:210px;height:14px;background:#fff;border:solid #1a1a1a;border-width:1px 1px;"></div>
<div class="b" style="left:305px;top:429px;width:46px;height:14px;background:#fff;border:solid #000;border-width:2px 1px;"></div>
<div class="b" style="left:350px;top:429px;width:45px;height:14px;background:#fff;border:solid #000;border-width:2px 1px;"></div>
<div class="b" style="left:394px;top:429px;width:46px;height:14px;background:#fff;border:solid #000;border-width:2px 1px;"></div>
<div class="b" style="left:439px;top:429px;width:47px;height:14px;background:#fff;border:solid #000;border-width:2px 1px;"></div>
<div class="b" style="left:485px;top:429px;width:48px;height:14px;background:#fff;border:solid #000;border-width:2px 1px;"></div>
<div class="b" style="left:532px;top:429px;width:44px;height:14px;background:#fff;border:solid #000;border-width:2px 1px;"></div>
<div class="b" style="left:575px;top:429px;width:44px;height:14px;background:#fff;border:solid #000;border-width:2px 1px;"></div>
<div class="b" style="left:618px;top:429px;width:46px;height:14px;background:#fff;border:solid #000;border-width:2px 1px;"></div>
<div class="b" style="left:663px;top:429px;width:41px;height:14px;background:#fff;border:solid #000;border-width:2px 1px;"></div>
<div class="b" style="left:38px;top:442px;width:210px;height:13px;background:#fff;border:solid #1a1a1a;border-width:1px 1px;"></div>
<div class="b" style="left:305px;top:441px;width:46px;height:15px;background:#fff;border:solid #000;border-width:2px 1px;"></div>
<div class="b" style="left:350px;top:441px;width:45px;height:15px;background:#fff;border:solid #000;border-width:2px 1px;"></div>
<div class="b" style="left:394px;top:441px;width:46px;height:15px;background:#fff;border:solid #000;border-width:2px 1px;"></div>
<div class="b" style="left:439px;top:441px;width:47px;height:15px;background:#fff;border:solid #000;border-width:2px 1px;"></div>
<div class="b" style="left:485px;top:441px;width:48px;height:15px;background:#fff;border:solid #000;border-width:2px 1px;"></div>
<div class="b" style="left:532px;top:441px;width:44px;height:15px;background:#fff;border:solid #000;border-width:2px 1px;"></div>
<div class="b" style="left:575px;top:441px;width:44px;height:15px;background:#fff;border:solid #000;border-width:2px 1px;"></div>
<div class="b" style="left:618px;top:441px;width:46px;height:15px;background:#fff;border:solid #000;border-width:2px 1px;"></div>
<div class="b" style="left:663px;top:441px;width:41px;height:15px;background:#fff;border:solid #000;border-width:2px 1px;"></div>
<div class="b" style="left:38px;top:454px;width:210px;height:13px;background:#fff;border:solid #1a1a1a;border-width:1px 1px;"></div>
<div class="b" style="left:305px;top:454px;width:46px;height:14px;background:#fff;border:solid #000;border-width:2px 1px;"></div>
<div class="b" style="left:350px;top:454px;width:45px;height:14px;background:#fff;border:solid #000;border-width:2px 1px;"></div>
<div class="b" style="left:394px;top:454px;width:46px;height:14px;background:#fff;border:solid #000;border-width:2px 1px;"></div>
<div class="b" style="left:439px;top:454px;width:47px;height:14px;background:#fff;border:solid #000;border-width:2px 1px;"></div>
<div class="b" style="left:485px;top:454px;width:48px;height:14px;background:#fff;border:solid #000;border-width:2px 1px;"></div>
<div class="b" style="left:532px;top:454px;width:44px;height:14px;background:#fff;border:solid #000;border-width:2px 1px;"></div>
<div class="b" style="left:575px;top:454px;width:44px;height:14px;background:#fff;border:solid #000;border-width:2px 1px;"></div>
<div class="b" style="left:618px;top:454px;width:46px;height:14px;background:#fff;border:solid #000;border-width:2px 1px;"></div>
<div class="b" style="left:663px;top:454px;width:41px;height:14px;background:#fff;border:solid #000;border-width:2px 1px;"></div>
<div class="b" style="left:38px;top:479px;width:210px;height:13px;background:#fff;border:solid #1a1a1a;border-width:1px 1px;"></div>
<div class="b" style="left:305px;top:478px;width:46px;height:14px;background:#fff;border:solid #000;border-width:2px 1px;"></div>
<div class="b" style="left:350px;top:478px;width:45px;height:14px;background:#fff;border:solid #000;border-width:2px 1px;"></div>
<div class="b" style="left:394px;top:478px;width:46px;height:14px;background:#fff;border:solid #000;border-width:2px 1px;"></div>
<div class="b" style="left:439px;top:478px;width:47px;height:14px;background:#fff;border:solid #000;border-width:2px 1px;"></div>
<div class="b" style="left:485px;top:478px;width:48px;height:14px;background:#fff;border:solid #000;border-width:2px 1px;"></div>
<div class="b" style="left:532px;top:478px;width:44px;height:14px;background:#fff;border:solid #000;border-width:2px 1px;"></div>
<div class="b" style="left:575px;top:478px;width:44px;height:14px;background:#fff;border:solid #000;border-width:2px 1px;"></div>
<div class="b" style="left:618px;top:478px;width:46px;height:14px;background:#fff;border:solid #000;border-width:2px 1px;"></div>
<div class="b" style="left:663px;top:478px;width:41px;height:14px;background:#fff;border:solid #000;border-width:2px 1px;"></div>
<div class="b" style="left:38px;top:491px;width:210px;height:13px;background:#fff;border:solid #1a1a1a;border-width:1px 1px;"></div>
<div class="b" style="left:305px;top:490px;width:46px;height:15px;background:#fff;border:solid #000;border-width:2px 1px;"></div>
<div class="b" style="left:350px;top:490px;width:45px;height:15px;background:#fff;border:solid #000;border-width:2px 1px;"></div>
<div class="b" style="left:394px;top:490px;width:46px;height:15px;background:#fff;border:solid #000;border-width:2px 1px;"></div>
<div class="b" style="left:439px;top:490px;width:47px;height:15px;background:#fff;border:solid #000;border-width:2px 1px;"></div>
<div class="b" style="left:485px;top:490px;width:48px;height:15px;background:#fff;border:solid #000;border-width:2px 1px;"></div>
<div class="b" style="left:532px;top:490px;width:44px;height:15px;background:#fff;border:solid #000;border-width:2px 1px;"></div>
<div class="b" style="left:575px;top:490px;width:44px;height:15px;background:#fff;border:solid #000;border-width:2px 1px;"></div>
<div class="b" style="left:618px;top:490px;width:46px;height:15px;background:#fff;border:solid #000;border-width:2px 1px;"></div>
<div class="b" style="left:663px;top:490px;width:41px;height:15px;background:#fff;border:solid #000;border-width:2px 1px;"></div>
<div class="b" style="left:38px;top:503px;width:210px;height:12px;background:#fff;border:solid #1a1a1a;border-width:1px 1px;"></div>
<div class="b" style="left:305px;top:503px;width:46px;height:13px;background:#fff;border:solid #000;border-width:2px 1px;"></div>
<div class="b" style="left:350px;top:503px;width:45px;height:13px;background:#fff;border:solid #000;border-width:2px 1px;"></div>
<div class="b" style="left:394px;top:503px;width:46px;height:13px;background:#fff;border:solid #000;border-width:2px 1px;"></div>
<div class="b" style="left:439px;top:503px;width:47px;height:13px;background:#fff;border:solid #000;border-width:2px 1px;"></div>
<div class="b" style="left:485px;top:503px;width:48px;height:13px;background:#fff;border:solid #000;border-width:2px 1px;"></div>
<div class="b" style="left:532px;top:503px;width:44px;height:13px;background:#fff;border:solid #000;border-width:2px 1px;"></div>
<div class="b" style="left:575px;top:503px;width:44px;height:13px;background:#fff;border:solid #000;border-width:2px 1px;"></div>
<div class="b" style="left:618px;top:503px;width:46px;height:13px;background:#fff;border:solid #000;border-width:2px 1px;"></div>
<div class="b" style="left:663px;top:503px;width:41px;height:13px;background:#fff;border:solid #000;border-width:2px 1px;"></div>
<div class="b" style="left:38px;top:514px;width:210px;height:13px;background:#fff;border:solid #1a1a1a;border-width:1px 1px;"></div>
<div class="b" style="left:305px;top:514px;width:46px;height:13px;background:#fff;border:solid #000;border-width:2px 1px;"></div>
<div class="b" style="left:350px;top:514px;width:45px;height:13px;background:#fff;border:solid #000;border-width:2px 1px;"></div>
<div class="b" style="left:394px;top:514px;width:46px;height:13px;background:#fff;border:solid #000;border-width:2px 1px;"></div>
<div class="b" style="left:439px;top:514px;width:47px;height:13px;background:#fff;border:solid #000;border-width:2px 1px;"></div>
<div class="b" style="left:485px;top:514px;width:48px;height:13px;background:#fff;border:solid #000;border-width:2px 1px;"></div>
<div class="b" style="left:532px;top:514px;width:44px;height:13px;background:#fff;border:solid #000;border-width:2px 1px;"></div>
<div class="b" style="left:575px;top:514px;width:44px;height:13px;background:#fff;border:solid #000;border-width:2px 1px;"></div>
<div class="b" style="left:618px;top:514px;width:46px;height:13px;background:#fff;border:solid #000;border-width:2px 1px;"></div>
<div class="b" style="left:663px;top:514px;width:41px;height:13px;background:#fff;border:solid #000;border-width:2px 1px;"></div>
<div class="b" style="left:38px;top:537px;width:210px;height:12px;background:#fff;border:solid #1a1a1a;border-width:1px 1px;"></div>
<div class="b" style="left:305px;top:537px;width:46px;height:13px;background:#fff;border:solid #000;border-width:2px 1px;"></div>
<div class="b" style="left:350px;top:537px;width:45px;height:13px;background:#fff;border:solid #000;border-width:2px 1px;"></div>
<div class="b" style="left:394px;top:537px;width:46px;height:13px;background:#fff;border:solid #000;border-width:2px 1px;"></div>
<div class="b" style="left:439px;top:537px;width:47px;height:13px;background:#fff;border:solid #000;border-width:2px 1px;"></div>
<div class="b" style="left:485px;top:537px;width:48px;height:13px;background:#fff;border:solid #000;border-width:2px 1px;"></div>
<div class="b" style="left:532px;top:537px;width:44px;height:13px;background:#fff;border:solid #000;border-width:2px 1px;"></div>
<div class="b" style="left:575px;top:537px;width:44px;height:13px;background:#fff;border:solid #000;border-width:2px 1px;"></div>
<div class="b" style="left:618px;top:537px;width:46px;height:13px;background:#fff;border:solid #000;border-width:2px 1px;"></div>
<div class="b" style="left:663px;top:537px;width:41px;height:13px;background:#fff;border:solid #000;border-width:2px 1px;"></div>
<div class="b" style="left:38px;top:560px;width:210px;height:14px;background:#fff;border:solid #1a1a1a;border-width:1px 1px;"></div>
<div class="b" style="left:38px;top:573px;width:210px;height:13px;background:#fff;border:solid #1a1a1a;border-width:1px 1px;"></div>
<div class="b" style="left:38px;top:598px;width:210px;height:13px;background:#fff;border:solid #1a1a1a;border-width:1px 1px;"></div>
<div class="b" style="left:38px;top:610px;width:210px;height:13px;background:#fff;border:solid #1a1a1a;border-width:1px 1px;"></div>
<div class="b" style="left:38px;top:647px;width:210px;height:14px;background:#fff;border:solid #1a1a1a;border-width:1px 1px;"></div>
<div class="b" style="left:38px;top:660px;width:210px;height:13px;background:#fff;border:solid #1a1a1a;border-width:1px 1px;"></div>
<div class="t" style="top:421px;font-size:6.6px;line-height:7px;height:7px;color:#000;z-index:5;font-weight:bold;letter-spacing:0.216px;-webkit-text-stroke:0.25px #000;left:39.50px;">PDC EAST FACILITY</div>
<div class="t" style="top:421px;font-size:8.2px;line-height:9px;height:9px;color:#333;z-index:5;-webkit-text-stroke:0.3px #333;right:491.30px;">926</div>
<div class="t" style="top:421px;font-size:8.2px;line-height:9px;height:9px;color:#000;z-index:5;font-weight:bold;-webkit-text-stroke:0.2px #000;right:442.60px;">1,878</div>
<div class="t" style="top:421px;font-size:8.2px;line-height:9px;height:9px;color:#000;z-index:5;font-weight:bold;-webkit-text-stroke:0.2px #000;right:398.40px;">30</div>
<div class="t" style="top:421px;font-size:8.2px;line-height:9px;height:9px;color:#000;z-index:5;font-weight:bold;-webkit-text-stroke:0.2px #000;right:353.90px;">1,908</div>
<div class="t" style="top:421px;font-size:8.2px;line-height:9px;height:9px;color:#000;z-index:5;font-weight:bold;-webkit-text-stroke:0.2px #000;right:307.60px;">0</div>
<div class="t" style="top:421px;font-size:8.2px;line-height:9px;height:9px;color:#000;z-index:5;font-weight:bold;-webkit-text-stroke:0.2px #000;right:261.10px;">1,782</div>
<div class="t" style="top:421px;font-size:8.2px;line-height:9px;height:9px;color:#000;z-index:5;font-weight:bold;-webkit-text-stroke:0.2px #000;right:218.10px;">126</div>
<div class="t" style="top:421px;font-size:8.2px;line-height:9px;height:9px;color:#000;z-index:5;font-weight:bold;-webkit-text-stroke:0.2px #000;right:175.00px;">0</div>
<div class="t" style="top:421px;font-size:8.2px;line-height:9px;height:9px;color:#000;z-index:5;font-weight:bold;-webkit-text-stroke:0.2px #000;right:130.00px;">100</div>
<div class="t" style="top:421px;font-size:8.2px;line-height:9px;height:9px;color:#000;z-index:5;font-weight:bold;-webkit-text-stroke:0.2px #000;right:89.90px;">100</div>
<div class="t" style="top:421px;font-size:8.2px;line-height:9px;height:9px;color:#101c28;z-index:5;letter-spacing:0.300px;-webkit-text-stroke:0.3px #101c28;right:40.40px;">26</div>
<div class="t" style="top:433px;font-size:6.6px;line-height:7px;height:7px;color:#000;z-index:5;font-weight:bold;letter-spacing:0.241px;-webkit-text-stroke:0.25px #000;left:39.50px;">PDC NORTH FACILITY</div>
<div class="t" style="top:433px;font-size:8.2px;line-height:9px;height:9px;color:#333;z-index:5;-webkit-text-stroke:0.3px #333;right:491.30px;">830</div>
<div class="t" style="top:433px;font-size:8.2px;line-height:9px;height:9px;color:#000;z-index:5;font-weight:bold;-webkit-text-stroke:0.2px #000;right:442.60px;">1,600</div>
<div class="t" style="top:433px;font-size:8.2px;line-height:9px;height:9px;color:#000;z-index:5;font-weight:bold;-webkit-text-stroke:0.2px #000;right:398.40px;">0</div>
<div class="t" style="top:433px;font-size:8.2px;line-height:9px;height:9px;color:#000;z-index:5;font-weight:bold;-webkit-text-stroke:0.2px #000;right:353.90px;">1,600</div>
<div class="t" style="top:433px;font-size:8.2px;line-height:9px;height:9px;color:#000;z-index:5;font-weight:bold;-webkit-text-stroke:0.2px #000;right:307.60px;">4</div>
<div class="t" style="top:433px;font-size:8.2px;line-height:9px;height:9px;color:#000;z-index:5;font-weight:bold;-webkit-text-stroke:0.2px #000;right:261.10px;">167</div>
<div class="t" style="top:433px;font-size:8.2px;line-height:9px;height:9px;color:#000;z-index:5;font-weight:bold;-webkit-text-stroke:0.2px #000;right:218.10px;">1,429</div>
<div class="t" style="top:433px;font-size:8.2px;line-height:9px;height:9px;color:#000;z-index:5;font-weight:bold;-webkit-text-stroke:0.2px #000;right:175.00px;">3</div>
<div class="t" style="top:433px;font-size:8.2px;line-height:9px;height:9px;color:#000;z-index:5;font-weight:bold;-webkit-text-stroke:0.2px #000;right:130.00px;">216</div>
<div class="t" style="top:433px;font-size:8.2px;line-height:9px;height:9px;color:#000;z-index:5;font-weight:bold;-webkit-text-stroke:0.2px #000;right:89.90px;">219</div>
<div class="t" style="top:433px;font-size:8.2px;line-height:9px;height:9px;color:#101c28;z-index:5;letter-spacing:0.300px;-webkit-text-stroke:0.3px #101c28;right:40.40px;">1,210</div>
<div class="t" style="top:446px;font-size:6.6px;line-height:7px;height:7px;color:#000;z-index:5;font-weight:bold;letter-spacing:0.263px;-webkit-text-stroke:0.25px #000;left:39.50px;">PDC SOUTH FACILITY</div>
<div class="t" style="top:445px;font-size:8.2px;line-height:9px;height:9px;color:#333;z-index:5;-webkit-text-stroke:0.3px #333;right:491.30px;">782</div>
<div class="t" style="top:445px;font-size:8.2px;line-height:9px;height:9px;color:#000;z-index:5;font-weight:bold;-webkit-text-stroke:0.2px #000;right:442.60px;">1,540</div>
<div class="t" style="top:445px;font-size:8.2px;line-height:9px;height:9px;color:#000;z-index:5;font-weight:bold;-webkit-text-stroke:0.2px #000;right:398.40px;">0</div>
<div class="t" style="top:445px;font-size:8.2px;line-height:9px;height:9px;color:#000;z-index:5;font-weight:bold;-webkit-text-stroke:0.2px #000;right:353.90px;">1,540</div>
<div class="t" style="top:445px;font-size:8.2px;line-height:9px;height:9px;color:#000;z-index:5;font-weight:bold;-webkit-text-stroke:0.2px #000;right:307.60px;">15</div>
<div class="t" style="top:445px;font-size:8.2px;line-height:9px;height:9px;color:#000;z-index:5;font-weight:bold;-webkit-text-stroke:0.2px #000;right:261.10px;">73</div>
<div class="t" style="top:445px;font-size:8.2px;line-height:9px;height:9px;color:#000;z-index:5;font-weight:bold;-webkit-text-stroke:0.2px #000;right:218.10px;">1,452</div>
<div class="t" style="top:445px;font-size:8.2px;line-height:9px;height:9px;color:#000;z-index:5;font-weight:bold;-webkit-text-stroke:0.2px #000;right:175.00px;">413</div>
<div class="t" style="top:445px;font-size:8.2px;line-height:9px;height:9px;color:#000;z-index:5;font-weight:bold;-webkit-text-stroke:0.2px #000;right:130.00px;">289</div>
<div class="t" style="top:445px;font-size:8.2px;line-height:9px;height:9px;color:#000;z-index:5;font-weight:bold;-webkit-text-stroke:0.2px #000;right:89.90px;">702</div>
<div class="t" style="top:445px;font-size:8.2px;line-height:9px;height:9px;color:#101c28;z-index:5;letter-spacing:0.300px;-webkit-text-stroke:0.3px #101c28;right:40.40px;">750</div>
<div class="t" style="top:458px;font-size:6.6px;line-height:7px;height:7px;color:#000;z-index:5;font-weight:bold;letter-spacing:0.261px;-webkit-text-stroke:0.25px #000;left:39.50px;">NORTH COUNTY CORRECTIONAL FACILITY</div>
<div class="t" style="top:458px;font-size:8.2px;line-height:9px;height:9px;color:#333;z-index:5;-webkit-text-stroke:0.3px #333;right:491.30px;">2,214</div>
<div class="t" style="top:458px;font-size:8.2px;line-height:9px;height:9px;color:#000;z-index:5;font-weight:bold;-webkit-text-stroke:0.2px #000;right:442.60px;">4,344</div>
<div class="t" style="top:458px;font-size:8.2px;line-height:9px;height:9px;color:#000;z-index:5;font-weight:bold;-webkit-text-stroke:0.2px #000;right:398.40px;">0</div>
<div class="t" style="top:458px;font-size:8.2px;line-height:9px;height:9px;color:#000;z-index:5;font-weight:bold;-webkit-text-stroke:0.2px #000;right:353.90px;">4,344</div>
<div class="t" style="top:458px;font-size:8.2px;line-height:9px;height:9px;color:#000;z-index:5;font-weight:bold;-webkit-text-stroke:0.2px #000;right:307.60px;">58</div>
<div class="t" style="top:458px;font-size:8.2px;line-height:9px;height:9px;color:#000;z-index:5;font-weight:bold;-webkit-text-stroke:0.2px #000;right:261.10px;">435</div>
<div class="t" style="top:458px;font-size:8.2px;line-height:9px;height:9px;color:#000;z-index:5;font-weight:bold;-webkit-text-stroke:0.2px #000;right:218.10px;">3,851</div>
<div class="t" style="top:458px;font-size:8.2px;line-height:9px;height:9px;color:#000;z-index:5;font-weight:bold;-webkit-text-stroke:0.2px #000;right:175.00px;">376</div>
<div class="t" style="top:458px;font-size:8.2px;line-height:9px;height:9px;color:#000;z-index:5;font-weight:bold;-webkit-text-stroke:0.2px #000;right:130.00px;">367</div>
<div class="t" style="top:458px;font-size:8.2px;line-height:9px;height:9px;color:#000;z-index:5;font-weight:bold;-webkit-text-stroke:0.2px #000;right:89.90px;">743</div>
<div class="t" style="top:458px;font-size:8.2px;line-height:9px;height:9px;color:#101c28;z-index:5;letter-spacing:0.300px;-webkit-text-stroke:0.3px #101c28;right:40.40px;">3,108</div>
<div class="t" style="top:470px;font-size:6.7px;line-height:7px;height:7px;color:#0d0d0d;z-index:5;letter-spacing:0.142px;-webkit-text-stroke:0.33px #0d0d0d;right:545.66px;">PDC TOTAL</div>
<div class="t" style="top:470px;font-size:8.2px;line-height:9px;height:9px;color:#101000;z-index:5;letter-spacing:0.400px;-webkit-text-stroke:0.3px #101000;right:489.20px;">4,752</div>
<div class="t" style="top:470px;font-size:8.2px;line-height:9px;height:9px;color:#101000;z-index:5;letter-spacing:0.400px;-webkit-text-stroke:0.3px #101000;right:442.20px;">9,362</div>
<div class="t" style="top:470px;font-size:8.2px;line-height:9px;height:9px;color:#101000;z-index:5;letter-spacing:0.400px;-webkit-text-stroke:0.3px #101000;right:398.00px;">30</div>
<div class="t" style="top:470px;font-size:8.2px;line-height:9px;height:9px;color:#101000;z-index:5;letter-spacing:0.400px;-webkit-text-stroke:0.3px #101000;right:353.50px;">9,392</div>
<div class="t" style="top:470px;font-size:8.2px;line-height:9px;height:9px;color:#101000;z-index:5;letter-spacing:0.400px;-webkit-text-stroke:0.3px #101000;right:307.20px;">77</div>
<div class="t" style="top:470px;font-size:8.2px;line-height:9px;height:9px;color:#101000;z-index:5;letter-spacing:0.400px;-webkit-text-stroke:0.3px #101000;right:260.70px;">2,457</div>
<div class="t" style="top:470px;font-size:8.2px;line-height:9px;height:9px;color:#101000;z-index:5;letter-spacing:0.400px;-webkit-text-stroke:0.3px #101000;right:217.70px;">6,858</div>
<div class="t" style="top:470px;font-size:8.2px;line-height:9px;height:9px;color:#101000;z-index:5;letter-spacing:0.400px;-webkit-text-stroke:0.3px #101000;right:174.60px;">792</div>
<div class="t" style="top:470px;font-size:8.2px;line-height:9px;height:9px;color:#101000;z-index:5;letter-spacing:0.400px;-webkit-text-stroke:0.3px #101000;right:129.60px;">972</div>
<div class="t" style="top:470px;font-size:8.2px;line-height:9px;height:9px;color:#101000;z-index:5;letter-spacing:0.400px;-webkit-text-stroke:0.3px #101000;right:89.50px;">1,764</div>
<div class="t" style="top:470px;font-size:8.2px;line-height:9px;height:9px;color:#101000;z-index:5;letter-spacing:0.400px;-webkit-text-stroke:0.3px #101000;right:40.30px;">5,094</div>
<div class="t" style="top:482px;font-size:6.6px;line-height:7px;height:7px;color:#000;z-index:5;font-weight:bold;letter-spacing:0.223px;-webkit-text-stroke:0.25px #000;left:39.50px;">CENTRAL JAIL</div>
<div class="t" style="top:482px;font-size:8.2px;line-height:9px;height:9px;color:#333;z-index:5;-webkit-text-stroke:0.3px #333;right:491.30px;">3,512</div>
<div class="t" style="top:482px;font-size:8.2px;line-height:9px;height:9px;color:#000;z-index:5;font-weight:bold;-webkit-text-stroke:0.2px #000;right:442.60px;">4,634</div>
<div class="t" style="top:482px;font-size:8.2px;line-height:9px;height:9px;color:#000;z-index:5;font-weight:bold;-webkit-text-stroke:0.2px #000;right:398.40px;">0</div>
<div class="t" style="top:482px;font-size:8.2px;line-height:9px;height:9px;color:#000;z-index:5;font-weight:bold;-webkit-text-stroke:0.2px #000;right:353.90px;">4,634</div>
<div class="t" style="top:482px;font-size:8.2px;line-height:9px;height:9px;color:#000;z-index:5;font-weight:bold;-webkit-text-stroke:0.2px #000;right:307.60px;">339</div>
<div class="t" style="top:482px;font-size:8.2px;line-height:9px;height:9px;color:#000;z-index:5;font-weight:bold;-webkit-text-stroke:0.2px #000;right:261.10px;">117</div>
<div class="t" style="top:482px;font-size:8.2px;line-height:9px;height:9px;color:#000;z-index:5;font-weight:bold;-webkit-text-stroke:0.2px #000;right:218.10px;">4,178</div>
<div class="t" style="top:482px;font-size:8.2px;line-height:9px;height:9px;color:#000;z-index:5;font-weight:bold;-webkit-text-stroke:0.2px #000;right:175.00px;">67</div>
<div class="t" style="top:482px;font-size:8.2px;line-height:9px;height:9px;color:#000;z-index:5;font-weight:bold;-webkit-text-stroke:0.2px #000;right:130.00px;">520</div>
<div class="t" style="top:482px;font-size:8.2px;line-height:9px;height:9px;color:#000;z-index:5;font-weight:bold;-webkit-text-stroke:0.2px #000;right:89.90px;">587</div>
<div class="t" style="top:482px;font-size:8.2px;line-height:9px;height:9px;color:#101c28;z-index:5;letter-spacing:0.300px;-webkit-text-stroke:0.3px #101c28;right:40.40px;">3,591</div>
<div class="t" style="top:494px;font-size:6.6px;line-height:7px;height:7px;color:#000;z-index:5;font-weight:bold;letter-spacing:0.321px;-webkit-text-stroke:0.25px #000;left:39.50px;">CENTRAL JAIL OUTPATIENT CLINIC</div>
<div class="t" style="top:498px;font-size:4.9px;line-height:5px;height:5px;color:#333;z-index:5;-webkit-text-stroke:0.25px #333;right:490.10px;">*NR</div>
<div class="t" style="top:494px;font-size:8.2px;line-height:9px;height:9px;color:#000;z-index:5;font-weight:bold;-webkit-text-stroke:0.2px #000;right:442.60px;">601</div>
<div class="t" style="top:494px;font-size:8.2px;line-height:9px;height:9px;color:#000;z-index:5;font-weight:bold;-webkit-text-stroke:0.2px #000;right:398.40px;">0</div>
<div class="t" style="top:494px;font-size:8.2px;line-height:9px;height:9px;color:#000;z-index:5;font-weight:bold;-webkit-text-stroke:0.2px #000;right:353.90px;">601</div>
<div class="t" style="top:494px;font-size:8.2px;line-height:9px;height:9px;color:#000;z-index:5;font-weight:bold;-webkit-text-stroke:0.2px #000;right:307.60px;">13</div>
<div class="t" style="top:494px;font-size:8.2px;line-height:9px;height:9px;color:#000;z-index:5;font-weight:bold;-webkit-text-stroke:0.2px #000;right:261.10px;">0</div>
<div class="t" style="top:494px;font-size:8.2px;line-height:9px;height:9px;color:#000;z-index:5;font-weight:bold;-webkit-text-stroke:0.2px #000;right:218.10px;">588</div>
<div class="t" style="top:494px;font-size:8.2px;line-height:9px;height:9px;color:#000;z-index:5;font-weight:bold;-webkit-text-stroke:0.2px #000;right:175.00px;">0</div>
<div class="t" style="top:494px;font-size:8.2px;line-height:9px;height:9px;color:#000;z-index:5;font-weight:bold;-webkit-text-stroke:0.2px #000;right:130.00px;">209</div>
<div class="t" style="top:494px;font-size:8.2px;line-height:9px;height:9px;color:#000;z-index:5;font-weight:bold;-webkit-text-stroke:0.2px #000;right:89.90px;">209</div>
<div class="t" style="top:494px;font-size:8.2px;line-height:9px;height:9px;color:#101c28;z-index:5;letter-spacing:0.300px;-webkit-text-stroke:0.3px #101c28;right:40.40px;">379</div>
<div class="t" style="top:506px;font-size:6.6px;line-height:7px;height:7px;color:#000;z-index:5;font-weight:bold;letter-spacing:0.291px;-webkit-text-stroke:0.25px #000;left:39.50px;">TWIN TOWERS CORRECTIONAL FACILITY-TOWER 1</div>
<div class="t" style="top:506px;font-size:8.2px;line-height:9px;height:9px;color:#333;z-index:5;-webkit-text-stroke:0.3px #333;right:491.30px;">1,238</div>
<div class="t" style="top:506px;font-size:8.2px;line-height:9px;height:9px;color:#000;z-index:5;font-weight:bold;-webkit-text-stroke:0.2px #000;right:442.60px;">2,066</div>
<div class="t" style="top:506px;font-size:8.2px;line-height:9px;height:9px;color:#000;z-index:5;font-weight:bold;-webkit-text-stroke:0.2px #000;right:398.40px;">0</div>
<div class="t" style="top:506px;font-size:8.2px;line-height:9px;height:9px;color:#000;z-index:5;font-weight:bold;-webkit-text-stroke:0.2px #000;right:353.90px;">2,066</div>
<div class="t" style="top:506px;font-size:8.2px;line-height:9px;height:9px;color:#000;z-index:5;font-weight:bold;-webkit-text-stroke:0.2px #000;right:307.60px;">30</div>
<div class="t" style="top:506px;font-size:8.2px;line-height:9px;height:9px;color:#000;z-index:5;font-weight:bold;-webkit-text-stroke:0.2px #000;right:261.10px;">534</div>
<div class="t" style="top:506px;font-size:8.2px;line-height:9px;height:9px;color:#000;z-index:5;font-weight:bold;-webkit-text-stroke:0.2px #000;right:218.10px;">1,502</div>
<div class="t" style="top:506px;font-size:8.2px;line-height:9px;height:9px;color:#000;z-index:5;font-weight:bold;-webkit-text-stroke:0.2px #000;right:175.00px;">0</div>
<div class="t" style="top:506px;font-size:8.2px;line-height:9px;height:9px;color:#000;z-index:5;font-weight:bold;-webkit-text-stroke:0.2px #000;right:130.00px;">242</div>
<div class="t" style="top:506px;font-size:8.2px;line-height:9px;height:9px;color:#000;z-index:5;font-weight:bold;-webkit-text-stroke:0.2px #000;right:89.90px;">242</div>
<div class="t" style="top:506px;font-size:8.2px;line-height:9px;height:9px;color:#101c28;z-index:5;letter-spacing:0.300px;-webkit-text-stroke:0.3px #101c28;right:40.40px;">1,260</div>
<div class="t" style="top:517px;font-size:6.6px;line-height:7px;height:7px;color:#000;z-index:5;font-weight:bold;letter-spacing:0.291px;-webkit-text-stroke:0.25px #000;left:39.50px;">TWIN TOWERS CORRECTIONAL FACILITY-TOWER 2</div>
<div class="t" style="top:517px;font-size:8.2px;line-height:9px;height:9px;color:#333;z-index:5;-webkit-text-stroke:0.3px #333;right:491.30px;">1,194</div>
<div class="t" style="top:517px;font-size:8.2px;line-height:9px;height:9px;color:#000;z-index:5;font-weight:bold;-webkit-text-stroke:0.2px #000;right:442.60px;">1,817</div>
<div class="t" style="top:517px;font-size:8.2px;line-height:9px;height:9px;color:#000;z-index:5;font-weight:bold;-webkit-text-stroke:0.2px #000;right:398.40px;">448</div>
<div class="t" style="top:517px;font-size:8.2px;line-height:9px;height:9px;color:#000;z-index:5;font-weight:bold;-webkit-text-stroke:0.2px #000;right:353.90px;">2,265</div>
<div class="t" style="top:517px;font-size:8.2px;line-height:9px;height:9px;color:#000;z-index:5;font-weight:bold;-webkit-text-stroke:0.2px #000;right:307.60px;">39</div>
<div class="t" style="top:517px;font-size:8.2px;line-height:9px;height:9px;color:#000;z-index:5;font-weight:bold;-webkit-text-stroke:0.2px #000;right:261.10px;">599</div>
<div class="t" style="top:517px;font-size:8.2px;line-height:9px;height:9px;color:#000;z-index:5;font-weight:bold;-webkit-text-stroke:0.2px #000;right:218.10px;">1,627</div>
<div class="t" style="top:517px;font-size:8.2px;line-height:9px;height:9px;color:#000;z-index:5;font-weight:bold;-webkit-text-stroke:0.2px #000;right:175.00px;">0</div>
<div class="t" style="top:517px;font-size:8.2px;line-height:9px;height:9px;color:#000;z-index:5;font-weight:bold;-webkit-text-stroke:0.2px #000;right:130.00px;">102</div>
<div class="t" style="top:517px;font-size:8.2px;line-height:9px;height:9px;color:#000;z-index:5;font-weight:bold;-webkit-text-stroke:0.2px #000;right:89.90px;">102</div>
<div class="t" style="top:517px;font-size:8.2px;line-height:9px;height:9px;color:#101c28;z-index:5;letter-spacing:0.300px;-webkit-text-stroke:0.3px #101c28;right:40.40px;">1,525</div>
<div class="t" style="top:529px;font-size:6.7px;line-height:7px;height:7px;color:#0d0d0d;z-index:5;letter-spacing:0.300px;-webkit-text-stroke:0.33px #0d0d0d;right:545.50px;">CJ &amp; TTCF MALE TOTAL</div>
<div class="t" style="top:529px;font-size:8.2px;line-height:9px;height:9px;color:#101000;z-index:5;letter-spacing:0.400px;-webkit-text-stroke:0.3px #101000;right:489.20px;">5,944</div>
<div class="t" style="top:529px;font-size:8.2px;line-height:9px;height:9px;color:#101000;z-index:5;letter-spacing:0.400px;-webkit-text-stroke:0.3px #101000;right:442.20px;">9,118</div>
<div class="t" style="top:529px;font-size:8.2px;line-height:9px;height:9px;color:#101000;z-index:5;letter-spacing:0.400px;-webkit-text-stroke:0.3px #101000;right:398.00px;">448</div>
<div class="t" style="top:529px;font-size:8.2px;line-height:9px;height:9px;color:#101000;z-index:5;letter-spacing:0.400px;-webkit-text-stroke:0.3px #101000;right:353.50px;">9,566</div>
<div class="t" style="top:529px;font-size:8.2px;line-height:9px;height:9px;color:#101000;z-index:5;letter-spacing:0.400px;-webkit-text-stroke:0.3px #101000;right:307.20px;">421</div>
<div class="t" style="top:529px;font-size:8.2px;line-height:9px;height:9px;color:#101000;z-index:5;letter-spacing:0.400px;-webkit-text-stroke:0.3px #101000;right:260.70px;">1,250</div>
<div class="t" style="top:529px;font-size:8.2px;line-height:9px;height:9px;color:#101000;z-index:5;letter-spacing:0.400px;-webkit-text-stroke:0.3px #101000;right:217.70px;">7,895</div>
<div class="t" style="top:529px;font-size:8.2px;line-height:9px;height:9px;color:#101000;z-index:5;letter-spacing:0.400px;-webkit-text-stroke:0.3px #101000;right:174.60px;">67</div>
<div class="t" style="top:529px;font-size:8.2px;line-height:9px;height:9px;color:#101000;z-index:5;letter-spacing:0.400px;-webkit-text-stroke:0.3px #101000;right:129.60px;">1,073</div>
<div class="t" style="top:529px;font-size:8.2px;line-height:9px;height:9px;color:#101000;z-index:5;letter-spacing:0.400px;-webkit-text-stroke:0.3px #101000;right:89.50px;">1,140</div>
<div class="t" style="top:529px;font-size:8.2px;line-height:9px;height:9px;color:#101000;z-index:5;letter-spacing:0.400px;-webkit-text-stroke:0.3px #101000;right:40.30px;">6,755</div>
<div class="t" style="top:540px;font-size:6.6px;line-height:7px;height:7px;color:#000;z-index:5;font-weight:bold;letter-spacing:0.255px;-webkit-text-stroke:0.25px #000;left:39.50px;">CENTURY REGIONAL DETENTION FACILITY (FEMALES)</div>
<div class="t" style="top:540px;font-size:8.2px;line-height:9px;height:9px;color:#333;z-index:5;-webkit-text-stroke:0.3px #333;right:491.30px;">1,708</div>
<div class="t" style="top:540px;font-size:8.2px;line-height:9px;height:9px;color:#000;z-index:5;font-weight:bold;-webkit-text-stroke:0.2px #000;right:442.60px;">2,249</div>
<div class="t" style="top:540px;font-size:8.2px;line-height:9px;height:9px;color:#000;z-index:5;font-weight:bold;-webkit-text-stroke:0.2px #000;right:398.40px;">409</div>
<div class="t" style="top:540px;font-size:8.2px;line-height:9px;height:9px;color:#000;z-index:5;font-weight:bold;-webkit-text-stroke:0.2px #000;right:353.90px;">2,658</div>
<div class="t" style="top:540px;font-size:8.2px;line-height:9px;height:9px;color:#000;z-index:5;font-weight:bold;-webkit-text-stroke:0.2px #000;right:307.60px;">8</div>
<div class="t" style="top:540px;font-size:8.2px;line-height:9px;height:9px;color:#000;z-index:5;font-weight:bold;-webkit-text-stroke:0.2px #000;right:261.10px;">882</div>
<div class="t" style="top:540px;font-size:8.2px;line-height:9px;height:9px;color:#000;z-index:5;font-weight:bold;-webkit-text-stroke:0.2px #000;right:218.10px;">1,768</div>
<div class="t" style="top:540px;font-size:8.2px;line-height:9px;height:9px;color:#000;z-index:5;font-weight:bold;-webkit-text-stroke:0.2px #000;right:175.00px;">230</div>
<div class="t" style="top:540px;font-size:8.2px;line-height:9px;height:9px;color:#000;z-index:5;font-weight:bold;-webkit-text-stroke:0.2px #000;right:130.00px;">415</div>
<div class="t" style="top:540px;font-size:8.2px;line-height:9px;height:9px;color:#000;z-index:5;font-weight:bold;-webkit-text-stroke:0.2px #000;right:89.90px;">456</div>
<div class="t" style="top:540px;font-size:8.2px;line-height:9px;height:9px;color:#101c28;z-index:5;letter-spacing:0.300px;-webkit-text-stroke:0.3px #101c28;right:40.40px;">1,312</div>
<div class="t" style="top:552px;font-size:6.7px;line-height:7px;height:7px;color:#0d0d0d;z-index:5;letter-spacing:0.113px;-webkit-text-stroke:0.33px #0d0d0d;right:545.69px;">CRDF FEMALE TOTAL</div>
<div class="t" style="top:552px;font-size:8.2px;line-height:9px;height:9px;color:#101000;z-index:5;letter-spacing:0.400px;-webkit-text-stroke:0.3px #101000;right:489.20px;">1,708</div>
<div class="t" style="top:552px;font-size:8.2px;line-height:9px;height:9px;color:#101000;z-index:5;letter-spacing:0.400px;-webkit-text-stroke:0.3px #101000;right:442.20px;">2,249</div>
<div class="t" style="top:552px;font-size:8.2px;line-height:9px;height:9px;color:#101000;z-index:5;letter-spacing:0.400px;-webkit-text-stroke:0.3px #101000;right:398.00px;">409</div>
<div class="t" style="top:552px;font-size:8.2px;line-height:9px;height:9px;color:#101000;z-index:5;letter-spacing:0.400px;-webkit-text-stroke:0.3px #101000;right:353.50px;">2,658</div>
<div class="t" style="top:552px;font-size:8.2px;line-height:9px;height:9px;color:#101000;z-index:5;-webkit-text-stroke:0.3px #101000;right:307.60px;">8</div>
<div class="t" style="top:552px;font-size:8.2px;line-height:9px;height:9px;color:#101000;z-index:5;letter-spacing:0.400px;-webkit-text-stroke:0.3px #101000;right:260.70px;">882</div>
<div class="t" style="top:552px;font-size:8.2px;line-height:9px;height:9px;color:#101000;z-index:5;letter-spacing:0.400px;-webkit-text-stroke:0.3px #101000;right:217.70px;">1,768</div>
<div class="t" style="top:552px;font-size:8.2px;line-height:9px;height:9px;color:#101000;z-index:5;letter-spacing:0.400px;-webkit-text-stroke:0.3px #101000;right:174.60px;">230</div>
<div class="t" style="top:552px;font-size:8.2px;line-height:9px;height:9px;color:#101000;z-index:5;letter-spacing:0.400px;-webkit-text-stroke:0.3px #101000;right:129.60px;">415</div>
<div class="t" style="top:552px;font-size:8.2px;line-height:9px;height:9px;color:#101000;z-index:5;letter-spacing:0.400px;-webkit-text-stroke:0.3px #101000;right:89.50px;">456</div>
<div class="t" style="top:552px;font-size:8.2px;line-height:9px;height:9px;color:#101000;z-index:5;letter-spacing:0.400px;-webkit-text-stroke:0.3px #101000;right:40.30px;">1,312</div>
<div class="t" style="top:564px;font-size:6.6px;line-height:7px;height:7px;color:#000;z-index:5;font-weight:bold;letter-spacing:0.258px;-webkit-text-stroke:0.25px #000;left:39.50px;">CORRECTIONAL TREATMENT CENTER (MSB) MALES</div>
<div class="t" style="top:564px;font-size:8.2px;line-height:9px;height:9px;color:#101c28;z-index:5;-webkit-text-stroke:0.3px #101c28;right:40.70px;">94</div>
<div class="t" style="top:577px;font-size:6.6px;line-height:7px;height:7px;color:#000;z-index:5;font-weight:bold;letter-spacing:0.250px;-webkit-text-stroke:0.25px #000;left:39.50px;">CORRECTIONAL TREATMENT CENTER (MSB) FEMALES</div>
<div class="t" style="top:577px;font-size:8.2px;line-height:9px;height:9px;color:#101c28;z-index:5;-webkit-text-stroke:0.3px #101c28;right:40.70px;">15</div>
<div class="t" style="top:589px;font-size:6.7px;line-height:7px;height:7px;color:#0d0d0d;z-index:5;letter-spacing:0.248px;-webkit-text-stroke:0.33px #0d0d0d;right:545.55px;">CORRECTIONAL TREATMENT CENTER  TOTAL</div>
<div class="t" style="top:592px;font-size:4.9px;line-height:5px;height:5px;color:#222;z-index:5;-webkit-text-stroke:0.25px #222;right:490.10px;">*NR</div>
<div class="t" style="top:589px;font-size:8.2px;line-height:9px;height:9px;color:#101000;z-index:5;letter-spacing:0.400px;-webkit-text-stroke:0.3px #101000;right:442.20px;">196</div>
<div class="t" style="top:589px;font-size:8.2px;line-height:9px;height:9px;color:#101000;z-index:5;-webkit-text-stroke:0.3px #101000;right:398.40px;">0</div>
<div class="t" style="top:589px;font-size:8.2px;line-height:9px;height:9px;color:#101000;z-index:5;letter-spacing:0.400px;-webkit-text-stroke:0.3px #101000;right:353.50px;">196</div>
<div class="t" style="top:589px;font-size:8.2px;line-height:9px;height:9px;color:#101000;z-index:5;-webkit-text-stroke:0.3px #101000;right:307.60px;">0</div>
<div class="t" style="top:589px;font-size:8.2px;line-height:9px;height:9px;color:#101000;z-index:5;-webkit-text-stroke:0.3px #101000;right:261.10px;">0</div>
<div class="t" style="top:589px;font-size:8.2px;line-height:9px;height:9px;color:#101000;z-index:5;letter-spacing:0.400px;-webkit-text-stroke:0.3px #101000;right:217.70px;">196</div>
<div class="t" style="top:589px;font-size:8.2px;line-height:9px;height:9px;color:#101000;z-index:5;-webkit-text-stroke:0.3px #101000;right:175.00px;">0</div>
<div class="t" style="top:589px;font-size:8.2px;line-height:9px;height:9px;color:#101000;z-index:5;letter-spacing:0.400px;-webkit-text-stroke:0.3px #101000;right:129.60px;">87</div>
<div class="t" style="top:589px;font-size:8.2px;line-height:9px;height:9px;color:#101000;z-index:5;letter-spacing:0.400px;-webkit-text-stroke:0.3px #101000;right:89.50px;">87</div>
<div class="t" style="top:589px;font-size:8.2px;line-height:9px;height:9px;color:#101000;z-index:5;letter-spacing:0.400px;-webkit-text-stroke:0.3px #101000;right:40.30px;">109</div>
<div class="t" style="top:601px;font-size:6.6px;line-height:7px;height:7px;color:#000;z-index:5;font-weight:bold;letter-spacing:0.210px;-webkit-text-stroke:0.25px #000;left:39.50px;">LCMC JAIL WARDS MALE</div>
<div class="t" style="top:601px;font-size:8.2px;line-height:9px;height:9px;color:#101c28;z-index:5;-webkit-text-stroke:0.3px #101c28;right:40.70px;">23</div>
<div class="t" style="top:614px;font-size:6.6px;line-height:7px;height:7px;color:#000;z-index:5;font-weight:bold;letter-spacing:0.217px;-webkit-text-stroke:0.25px #000;left:39.50px;">LCMC JAIL WARDS FEMALE</div>
<div class="t" style="top:614px;font-size:8.2px;line-height:9px;height:9px;color:#101c28;z-index:5;-webkit-text-stroke:0.3px #101c28;right:40.70px;">3</div>
<div class="t" style="top:626px;font-size:6.7px;line-height:7px;height:7px;color:#0d0d0d;z-index:5;letter-spacing:0.163px;-webkit-text-stroke:0.33px #0d0d0d;right:545.64px;">LCMC JAIL WARD TOTAL</div>
<div class="t" style="top:629px;font-size:4.9px;line-height:5px;height:5px;color:#222;z-index:5;-webkit-text-stroke:0.25px #222;right:490.10px;">*NR</div>
<div class="t" style="top:626px;font-size:8.2px;line-height:9px;height:9px;color:#101000;z-index:5;letter-spacing:0.400px;-webkit-text-stroke:0.3px #101000;right:442.20px;">40</div>
<div class="t" style="top:626px;font-size:8.2px;line-height:9px;height:9px;color:#101000;z-index:5;-webkit-text-stroke:0.3px #101000;right:398.40px;">0</div>
<div class="t" style="top:626px;font-size:8.2px;line-height:9px;height:9px;color:#101000;z-index:5;letter-spacing:0.400px;-webkit-text-stroke:0.3px #101000;right:353.50px;">40</div>
<div class="t" style="top:626px;font-size:8.2px;line-height:9px;height:9px;color:#101000;z-index:5;-webkit-text-stroke:0.3px #101000;right:307.60px;">0</div>
<div class="t" style="top:626px;font-size:8.2px;line-height:9px;height:9px;color:#101000;z-index:5;-webkit-text-stroke:0.3px #101000;right:261.10px;">0</div>
<div class="t" style="top:626px;font-size:8.2px;line-height:9px;height:9px;color:#101000;z-index:5;letter-spacing:0.400px;-webkit-text-stroke:0.3px #101000;right:217.70px;">40</div>
<div class="t" style="top:626px;font-size:8.2px;line-height:9px;height:9px;color:#101000;z-index:5;-webkit-text-stroke:0.3px #101000;right:175.00px;">0</div>
<div class="t" style="top:626px;font-size:8.2px;line-height:9px;height:9px;color:#101000;z-index:5;letter-spacing:0.400px;-webkit-text-stroke:0.3px #101000;right:129.60px;">14</div>
<div class="t" style="top:626px;font-size:8.2px;line-height:9px;height:9px;color:#101000;z-index:5;letter-spacing:0.400px;-webkit-text-stroke:0.3px #101000;right:89.50px;">14</div>
<div class="t" style="top:626px;font-size:8.2px;line-height:9px;height:9px;color:#101000;z-index:5;letter-spacing:0.400px;-webkit-text-stroke:0.3px #101000;right:40.30px;">26</div>
<div class="t" style="top:639px;font-size:6.7px;line-height:7px;height:7px;color:#0d0d0d;z-index:5;letter-spacing:0.155px;-webkit-text-stroke:0.33px #0d0d0d;right:545.64px;">OCCUPIED TOTAL</div>
<div class="t" style="top:636px;font-size:9.5px;line-height:11px;height:11px;color:#101000;z-index:5;letter-spacing:0.400px;-webkit-text-stroke:0.3px #101000;right:442.20px;">20,965</div>
<div class="t" style="top:636px;font-size:9.5px;line-height:11px;height:11px;color:#101000;z-index:5;letter-spacing:0.400px;-webkit-text-stroke:0.3px #101000;right:398.00px;">887</div>
<div class="t" style="top:636px;font-size:9.5px;line-height:11px;height:11px;color:#101000;z-index:5;letter-spacing:0.400px;-webkit-text-stroke:0.3px #101000;right:353.50px;">21,852</div>
<div class="t" style="top:636px;font-size:9.5px;line-height:11px;height:11px;color:#101000;z-index:5;letter-spacing:0.400px;-webkit-text-stroke:0.3px #101000;right:307.20px;">506</div>
<div class="t" style="top:636px;font-size:9.5px;line-height:11px;height:11px;color:#101000;z-index:5;letter-spacing:0.400px;-webkit-text-stroke:0.3px #101000;right:260.70px;">4,589</div>
<div class="t" style="top:636px;font-size:9.5px;line-height:11px;height:11px;color:#101000;z-index:5;letter-spacing:0.400px;-webkit-text-stroke:0.3px #101000;right:217.70px;">16,757</div>
<div class="t" style="top:636px;font-size:9.5px;line-height:11px;height:11px;color:#101000;z-index:5;letter-spacing:0.400px;-webkit-text-stroke:0.3px #101000;right:174.60px;">1,089</div>
<div class="t" style="top:636px;font-size:9.5px;line-height:11px;height:11px;color:#101000;z-index:5;letter-spacing:0.400px;-webkit-text-stroke:0.3px #101000;right:129.60px;">2,561</div>
<div class="t" style="top:636px;font-size:9.5px;line-height:11px;height:11px;color:#101000;z-index:5;letter-spacing:0.400px;-webkit-text-stroke:0.3px #101000;right:89.50px;">3,461</div>
<div class="t" style="top:636px;font-size:9.5px;line-height:11px;height:11px;color:#101000;z-index:5;letter-spacing:0.400px;-webkit-text-stroke:0.3px #101000;right:40.30px;">13,296</div>
<div class="t" style="top:651px;font-size:6.6px;line-height:7px;height:7px;color:#000;z-index:5;font-weight:bold;letter-spacing:0.313px;-webkit-text-stroke:0.25px #000;left:39.50px;">INMATE RECEPTION CENTER</div>
<div class="t" style="top:651px;font-size:8.2px;line-height:9px;height:9px;color:#101c28;z-index:5;-webkit-text-stroke:0.3px #101c28;right:40.70px;">299</div>
<div class="t" style="top:663px;font-size:6.6px;line-height:7px;height:7px;color:#000;z-index:5;font-weight:bold;letter-spacing:0.283px;-webkit-text-stroke:0.25px #000;left:39.50px;">CRDF RECEPTION CENTER</div>
<div class="t" style="top:663px;font-size:8.2px;line-height:9px;height:9px;color:#101c28;z-index:5;-webkit-text-stroke:0.3px #101c28;right:40.70px;">2</div>
<div class="t" style="top:676px;font-size:6.7px;line-height:7px;height:7px;color:#0d0d0d;z-index:5;letter-spacing:0.133px;-webkit-text-stroke:0.33px #0d0d0d;right:545.67px;">RECEPTION CENTERS TOTAL</div>
<div class="t" style="top:675px;font-size:8.2px;line-height:9px;height:9px;color:#101000;z-index:5;-webkit-text-stroke:0.3px #101000;right:40.70px;">301</div>
<div class="t" style="top:688px;font-size:6.7px;line-height:7px;height:7px;color:#0d0d0d;z-index:5;letter-spacing:0.294px;-webkit-text-stroke:0.33px #0d0d0d;right:545.51px;">TOTAL BSCC RATED CAPACITY</div>
<div class="t" style="top:686px;font-size:9.5px;line-height:11px;height:11px;color:#111;z-index:5;-webkit-text-stroke:0.4px #111;right:488.00px;">12,404</div>
<div class="b" style="left:618px;top:684px;width:86px;height:14px;background:#ccffcc;border:solid #22361a;border-width:1px 1px;"></div>
<div class="b" style="left:703px;top:684px;width:50px;height:14px;background:#ccffcc;border:solid #22361a;border-width:1px 1px;"></div>
<div class="b" style="left:618px;top:697px;width:86px;height:13px;background:#ccffcc;border:solid #22361a;border-width:1px 1px;"></div>
<div class="b" style="left:703px;top:697px;width:50px;height:13px;background:#ccffcc;border:solid #22361a;border-width:1px 1px;"></div>
<div class="b" style="left:532px;top:709px;width:172px;height:14px;background:#fac090;border:solid #222;border-width:1px 1px;"></div>
<div class="b" style="left:703px;top:709px;width:50px;height:14px;background:#fac090;border:solid #222;border-width:1px 1px;"></div>
<div class="t" style="top:689px;font-size:5.87px;line-height:6px;height:6px;color:#1c2a14;z-index:5;font-weight:bold;letter-spacing:0.118px;-webkit-text-stroke:0.3px #1c2a14;left:627.30px;">MALE DIVISION TOTAL</div>
<div class="t" style="top:701px;font-size:5.87px;line-height:6px;height:6px;color:#1c2a14;z-index:5;font-weight:bold;letter-spacing:0.131px;-webkit-text-stroke:0.3px #1c2a14;left:623.30px;">FEMALE DIVISION TOTAL</div>
<div class="t" style="top:710px;font-size:9.3px;line-height:10px;height:10px;color:#3a2410;z-index:5;font-weight:bold;letter-spacing:0.197px;-webkit-text-stroke:0.2px #3a2410;left:554.50px;">CUSTODY DIVISION TOTAL</div>
<div class="t" style="top:686px;font-size:9.5px;line-height:11px;height:11px;color:#111;z-index:5;-webkit-text-stroke:0.35px #111;right:40.30px;">12,265</div>
<div class="t" style="top:698px;font-size:9.5px;line-height:11px;height:11px;color:#111;z-index:5;-webkit-text-stroke:0.35px #111;right:40.30px;">1,332</div>
<div class="t" style="top:711px;font-size:9.5px;line-height:11px;height:11px;color:#111;z-index:5;-webkit-text-stroke:0.35px #111;right:40.30px;">13,597</div>
<div class="b" style="left:248px;top:734px;width:58px;height:13px;background:#d9d9d9;border:solid #7f7f7f;border-width:1px 1px;"></div>
<div class="b" style="left:305px;top:734px;width:314px;height:13px;background:#d9d9d9;border:solid #7f7f7f;border-width:1px 1px;"></div>
<div class="b" style="left:618px;top:734px;width:86px;height:13px;background:#ccffcc;border:solid #22361a;border-width:1px 1px;"></div>
<div class="b" style="left:703px;top:734px;width:50px;height:13px;background:#ccffcc;border:solid #22361a;border-width:1px 1px;"></div>
<div class="b" style="left:248px;top:746px;width:58px;height:13px;background:#d9d9d9;border:solid #7f7f7f;border-width:1px 1px;"></div>
<div class="b" style="left:305px;top:746px;width:314px;height:13px;background:#d9d9d9;border:solid #7f7f7f;border-width:1px 1px;"></div>
<div class="b" style="left:618px;top:746px;width:86px;height:13px;background:#ccffcc;border:solid #22361a;border-width:1px 1px;"></div>
<div class="b" style="left:703px;top:746px;width:50px;height:13px;background:#ccffcc;border:solid #22361a;border-width:1px 1px;"></div>
<div class="b" style="left:38px;top:734px;width:211px;height:25px;background:#c4bd97;border:solid #222;border-width:2px 1px;"></div>
<div class="b" style="left:618px;top:758px;width:86px;height:13px;background:#92cddc;border:solid #12303c;border-width:1px 1px;"></div>
<div class="b" style="left:703px;top:758px;width:50px;height:13px;background:#92cddc;border:solid #12303c;border-width:1px 1px;"></div>
<div class="t" style="top:738px;font-size:7.7px;line-height:9px;height:9px;color:#2a2616;z-index:5;font-weight:bold;letter-spacing:0.053px;-webkit-text-stroke:0.2px #2a2616;left:-156.87px;width:600px;text-align:center;">GRAND TOTAL INCLUDES ATC (ALTERNATIVE TO</div>
<div class="t" style="top:747px;font-size:7.7px;line-height:9px;height:9px;color:#2a2616;z-index:5;font-weight:bold;letter-spacing:0.016px;-webkit-text-stroke:0.2px #2a2616;left:-156.89px;width:600px;text-align:center;">CUSTODY), FIRE CAMP AND STATION WORKERS.</div>
<div class="t" style="top:737px;font-size:5.87px;line-height:6px;height:6px;color:#1c2a14;z-index:5;font-weight:bold;letter-spacing:0.206px;-webkit-text-stroke:0.3px #1c2a14;left:634.00px;">MALE ATC TOTAL</div>
<div class="t" style="top:749px;font-size:5.87px;line-height:6px;height:6px;color:#1c2a14;z-index:5;font-weight:bold;letter-spacing:0.165px;-webkit-text-stroke:0.3px #1c2a14;left:630.30px;">FEMALE ATC TOTAL</div>
<div class="t" style="top:758px;font-size:9.45px;line-height:11px;height:11px;color:#14303f;z-index:5;font-weight:bold;letter-spacing:0.091px;-webkit-text-stroke:0.2px #14303f;left:625.90px;">GRAND TOTAL</div>
<div class="t" style="top:736px;font-size:9.5px;line-height:11px;height:11px;color:#111;z-index:5;-webkit-text-stroke:0.35px #111;right:40.50px;">120</div>
<div class="t" style="top:747px;font-size:9.5px;line-height:11px;height:11px;color:#111;z-index:5;-webkit-text-stroke:0.35px #111;right:40.50px;">6</div>
<div class="t" style="top:759px;font-size:9.5px;line-height:11px;height:11px;color:#14303f;z-index:5;-webkit-text-stroke:0.35px #14303f;right:40.70px;">13,723</div>
<div class="t" style="top:785px;font-size:6.0px;line-height:6px;height:6px;color:#000;z-index:5;font-style:italic;letter-spacing:0.095px;-webkit-text-stroke:0.3px #000;left:40.20px;">Fire Camp Program Count: Inmates housed at a CDCR Fire Camp.</div>
<div class="t" style="top:792px;font-size:6.0px;line-height:6px;height:6px;color:#000;z-index:5;font-style:italic;letter-spacing:0.124px;-webkit-text-stroke:0.3px #000;left:40.20px;">Fire Camp Training Count: Inmates housed at PDC East.</div>
<div class="t" style="top:800px;font-size:6.0px;line-height:6px;height:6px;color:#000;z-index:5;font-style:italic;letter-spacing:0.085px;-webkit-text-stroke:0.3px #000;left:40.20px;">BSCC Rated Capacity: Inspection date 2018</div>
<div class="t" style="top:807px;font-size:6.0px;line-height:6px;height:6px;color:#000;z-index:5;font-style:italic;letter-spacing:0.158px;-webkit-text-stroke:0.3px #000;left:40.20px;">*NR: Capacity not rated by BSCC</div>
<div class="t" style="top:814px;font-size:6.0px;line-height:6px;height:6px;color:#000;z-index:5;font-style:italic;letter-spacing:0.103px;-webkit-text-stroke:0.3px #000;left:40.20px;">Facility Capacity: Total beds reported by each facility.</div>
<div class="t" style="top:824px;font-size:6.0px;line-height:6px;height:6px;color:#000;z-index:5;font-style:italic;letter-spacing:0.071px;-webkit-text-stroke:0.3px #000;left:40.20px;">Overflow Capacity: Total dayroom beds added to each facility.</div>
<div class="t" style="top:831px;font-size:6.0px;line-height:6px;height:6px;color:#000;z-index:5;font-style:italic;letter-spacing:0.088px;-webkit-text-stroke:0.3px #000;left:40.20px;">Adjusted Capacity: Total number of Facility Capacity + Overflow Capacity</div>
<div class="t" style="top:839px;font-size:6.0px;line-height:6px;height:6px;color:#000;z-index:5;font-style:italic;letter-spacing:0.088px;-webkit-text-stroke:0.3px #000;left:40.20px;">Available "RESTRICTED" Beds: Inmate Workers, Medical, Discipline, School, Child Sex Crimes,  LGBT, K-10, K-1, SVP, Etc.</div>
<div class="t" style="top:846px;font-size:6.0px;line-height:6px;height:6px;color:#000;z-index:5;font-style:italic;letter-spacing:0.068px;-webkit-text-stroke:0.3px #000;left:40.20px;">CRDF Reception Center BSCC: Includes Module 1400 - Receiving Housing</div>
<div class="t" style="top:854px;font-size:6.0px;line-height:6px;height:6px;color:#000;z-index:5;letter-spacing:0.050px;-webkit-text-stroke:0.3px #000;left:40.20px;">As of 5/10/15 the Division Grand Total includes CBAC/CTU and Fire Camp</div>
<div class="t" style="top:861px;font-size:6.0px;line-height:6px;height:6px;color:#000;z-index:5;letter-spacing:0.038px;-webkit-text-stroke:0.3px #000;left:40.20px;">California Code of Regulations Title 15. Crime Prevention and Corrections 3274. Inmate Count (a) "A physical count of all inmates shall be taken."</div>
<div class="t" style="top:882px;font-size:6.0px;line-height:6px;height:6px;color:#000;z-index:5;letter-spacing:0.036px;-webkit-text-stroke:0.3px #000;left:40.20px;">This summary data document was created by the Los Angeles County Sheriff's Department as an internal population management tool.</div>
<div class="t" style="top:889px;font-size:6.0px;line-height:6px;height:6px;color:#000;z-index:5;letter-spacing:0.031px;-webkit-text-stroke:0.3px #000;left:40.20px;">The information contained within this report is deemed accurate only as of the generation date and time due to the constant, dynamic change of the population.</div>
<div class="t" style="top:897px;font-size:6.0px;line-height:6px;height:6px;color:#000;z-index:5;letter-spacing:0.035px;-webkit-text-stroke:0.3px #000;left:40.20px;">The Department makes no warranties, express or implied, as to the fitness of this information for any purpose, or with respect to results obtained by individuals</div>
<div class="t" style="top:904px;font-size:6.0px;line-height:6px;height:6px;color:#000;z-index:5;letter-spacing:0.021px;-webkit-text-stroke:0.3px #000;left:40.20px;">or other entities resulting from the use of any such information.</div>
<div class="t" style="top:912px;font-size:6.0px;line-height:6px;height:6px;color:#000;z-index:5;letter-spacing:0.020px;-webkit-text-stroke:0.3px #000;left:40.20px;">This report has been compiled on a best efforts basis, and, the information is subject to daily change.</div>
<svg style="position:absolute;left:48px;top:104px" width="50" height="50" viewBox="0 0 50 50">
<defs><linearGradient id="rg" x1="0" y1="0" x2="0" y2="1"><stop offset="0" stop-color="#231d52"/><stop offset="0.55" stop-color="#2a2446"/><stop offset="1" stop-color="#3a2a24"/></linearGradient>
<linearGradient id="cg" x1="0" y1="0" x2="0" y2="1"><stop offset="0" stop-color="#e9dfa8"/><stop offset="0.35" stop-color="#c9c4cf"/><stop offset="0.6" stop-color="#e6d6cf"/><stop offset="1" stop-color="#e2cfc4"/></linearGradient></defs>
<g transform="translate(24.8,24.5)">
<polygon points="0.0,-19.9 6.1,-10.5 18.8,-10.0 12.1,0.0 18.8,10.0 6.1,10.5 0.0,19.9 -6.0,10.5 -18.8,10.0 -12.1,0.0 -18.8,-10.0 -6.1,-10.5" fill="#bfb2a4" stroke="#b5a798" stroke-width="0.8" stroke-linejoin="round"/>
<circle cx="0" cy="-19.9" r="1.3" fill="#b3a596"/><circle cx="18.8" cy="-10" r="1.3" fill="#b3a596"/><circle cx="18.8" cy="10" r="1.3" fill="#b3a596"/><circle cx="0" cy="19.9" r="1.3" fill="#b3a596"/><circle cx="-18.8" cy="10" r="1.3" fill="#b3a596"/><circle cx="-18.8" cy="-10" r="1.3" fill="#b3a596"/>
<circle r="11.6" fill="url(#rg)"/>
<circle r="8.3" fill="url(#cg)"/>
<rect x="-4.6" y="-2.6" width="9.2" height="2.6" fill="#9ea0bd" opacity="0.8"/>
</g></svg>
<div class="t" style="top:119px;font-size:7.6px;line-height:9px;height:9px;color:#333;z-index:5;font-style:italic;font-family:'Liberation Serif',serif;letter-spacing:0.285px;-webkit-text-stroke:0.1px #333;left:95.20px;">Los Angeles County</div>
<div class="t" style="left:95.2px;top:126.6px;font-size:9.4px;line-height:12px;font-weight:bold;color:#111;transform-origin:0 50%;transform:scaleX(1.35);letter-spacing:0.1px;-webkit-text-stroke:0.35px #111;z-index:5">Sheriff's Department</div>
</body></html>
